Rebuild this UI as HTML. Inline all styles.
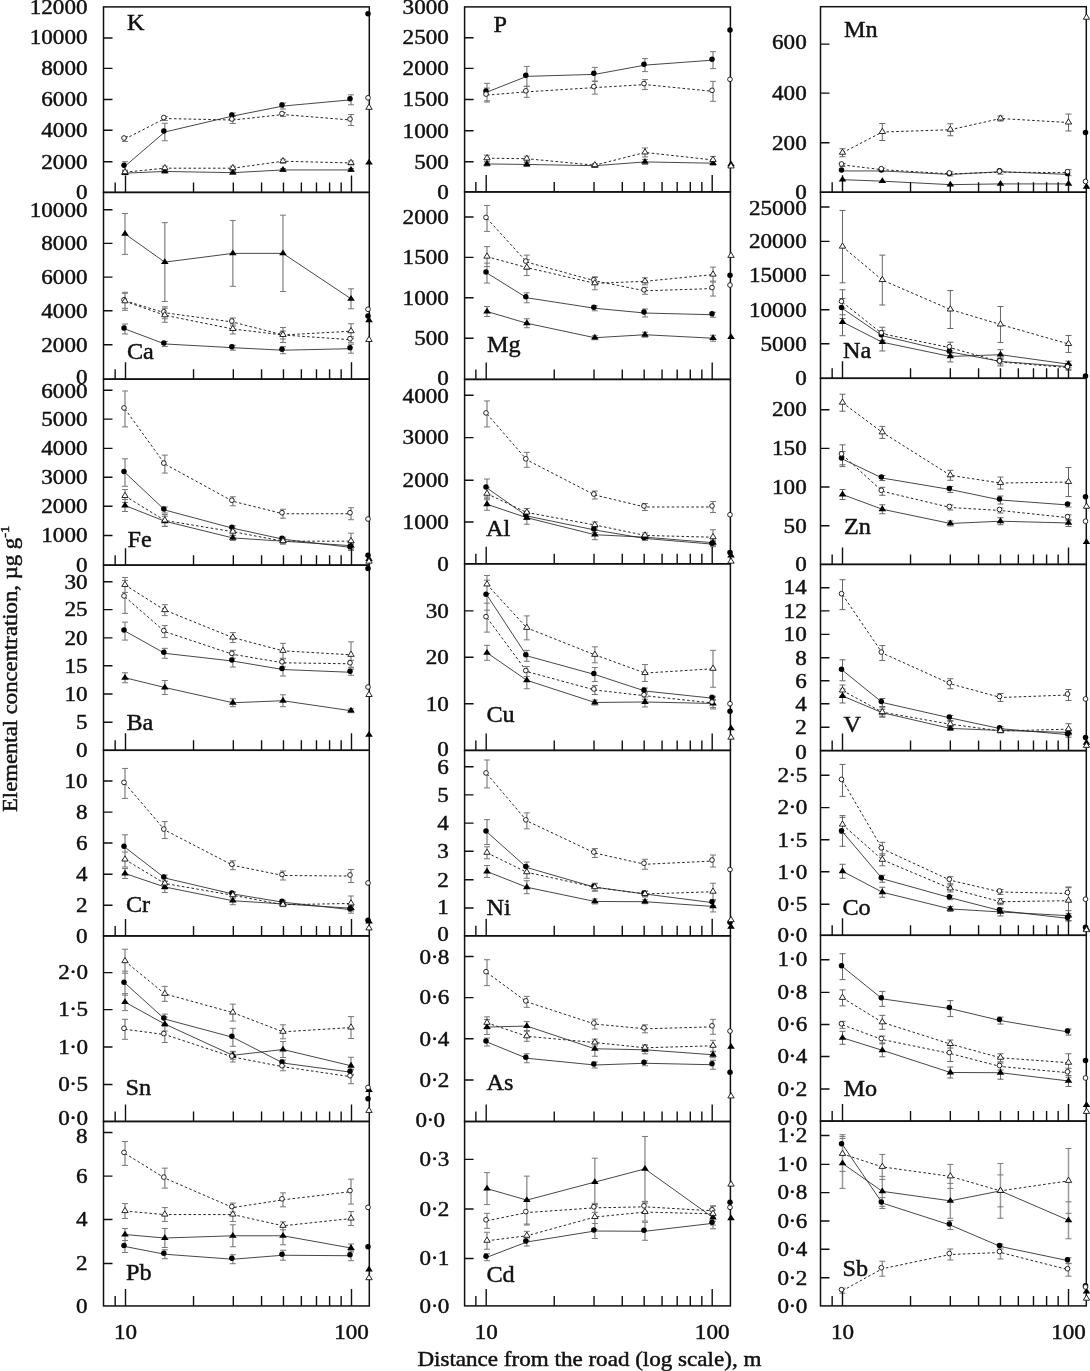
<!DOCTYPE html>
<html><head><meta charset="utf-8"><title>Elemental concentration vs distance from the road</title>
<style>html,body{margin:0;padding:0;background:#fff}svg{display:block}text{stroke:#111;stroke-width:.45px}</style></head>
<body>
<svg width="1090" height="1371" viewBox="0 0 1090 1371" font-family="'Liberation Serif', 'DejaVu Serif', serif" fill="#111">
<rect width="1090" height="1371" fill="#fff"/>
<g><!-- K -->
<path d="M125 161.7V170.69M164.8 123.28V140.74M232.83 113.04V119.03M282.97 103.06V109.05M351 94.83V104.81M125 171.69V174.68M164.8 169.94V172.93M232.83 171.19V174.18M282.97 168.44V171.44M351 168.44V171.44M125 136.5V141.49M164.8 116.54V120.53M232.83 116.54V123.52M282.97 112.54V116.54M351 114.54V125.52M125 170.19V174.18M164.8 166.2V170.19M232.83 166.2V170.19M282.97 159.21V163.2M351 160.96V164.95" fill="none" stroke="#999" stroke-width="1.5"/>
<path d="M122 161.7h6M122 170.69h6M161.8 123.28h6M161.8 140.74h6M229.83 113.04h6M229.83 119.03h6M279.97 103.06h6M279.97 109.05h6M348 94.83h6M348 104.81h6M122 171.69h6M122 174.68h6M161.8 169.94h6M161.8 172.93h6M229.83 171.19h6M229.83 174.18h6M279.97 168.44h6M279.97 171.44h6M348 168.44h6M348 171.44h6M122 136.5h6M122 141.49h6M161.8 116.54h6M161.8 120.53h6M229.83 116.54h6M229.83 123.52h6M279.97 112.54h6M279.97 116.54h6M348 114.54h6M348 125.52h6M122 170.19h6M122 174.18h6M161.8 166.2h6M161.8 170.19h6M229.83 166.2h6M229.83 170.19h6M279.97 159.21h6M279.97 163.2h6M348 160.96h6M348 164.95h6" fill="none" stroke="#777" stroke-width="1"/>
<path d="M125 166.2L164.8 132.01L232.83 116.04L282.97 106.06L351 99.82" fill="none" stroke="#262626" stroke-width="0.85"/>
<path d="M125 173.18L164.8 171.44L232.83 172.68L282.97 169.94L351 169.94" fill="none" stroke="#262626" stroke-width="0.85"/>
<path d="M125 139L164.8 118.53L232.83 120.03L282.97 114.54L351 120.03" fill="none" stroke="#262626" stroke-width="1.0" stroke-dasharray="2.6 2.3"/>
<path d="M125 172.19L164.8 168.19L232.83 168.19L282.97 161.21L351 162.95" fill="none" stroke="#262626" stroke-width="1.0" stroke-dasharray="2.6 2.3"/>
<rect x="103.5" y="6.9" width="265.8" height="185.5" fill="none" stroke="#111" stroke-width="1.5"/>
<text transform="translate(87.5,199.4) scale(1.08,1)" font-size="21.4" text-anchor="end">0</text>
<text transform="translate(87.5,168.5) scale(1.08,1)" font-size="21.4" text-anchor="end">2000</text>
<text transform="translate(87.5,137.06) scale(1.08,1)" font-size="21.4" text-anchor="end">4000</text>
<text transform="translate(87.5,106.37) scale(1.08,1)" font-size="21.4" text-anchor="end">6000</text>
<text transform="translate(87.5,75.17) scale(1.08,1)" font-size="21.4" text-anchor="end">8000</text>
<text transform="translate(87.5,43.6) scale(1.08,1)" font-size="21.4" text-anchor="end">10000</text>
<text transform="translate(87.5,14.2) scale(1.08,1)" font-size="21.4" text-anchor="end">12000</text>
<path d="M115.16 192.4v-10M125.5 192.4v-17M193.53 192.4v-10M233.33 192.4v-10M261.57 192.4v-10M283.47 192.4v-10M301.36 192.4v-10M316.49 192.4v-10M329.6 192.4v-10M341.16 192.4v-10M351.5 192.4v-17M103.5 161.7h9M103.5 130.26h9M103.5 99.57h9M103.5 68.37h9M103.5 37.93h9" fill="none" stroke="#111" stroke-width="1.4"/>
<circle cx="124" cy="165.2" r="2.75" fill="#000"/>
<circle cx="163.8" cy="131.01" r="2.75" fill="#000"/>
<circle cx="231.83" cy="115.04" r="2.75" fill="#000"/>
<circle cx="281.97" cy="105.06" r="2.75" fill="#000"/>
<circle cx="350" cy="98.82" r="2.75" fill="#000"/>
<circle cx="368" cy="13.72" r="2.75" fill="#000"/>
<polygon points="125,169.28 121.2,175.08 128.8,175.08" fill="#000"/>
<polygon points="164.8,167.54 161,173.34 168.6,173.34" fill="#000"/>
<polygon points="232.83,168.78 229.03,174.58 236.63,174.58" fill="#000"/>
<polygon points="282.97,166.04 279.17,171.84 286.77,171.84" fill="#000"/>
<polygon points="351,166.04 347.2,171.84 354.8,171.84" fill="#000"/>
<polygon points="369,158.8 365.2,164.6 372.8,164.6" fill="#000"/>
<circle cx="124" cy="138" r="2.35" fill="#fff" stroke="#111" stroke-width="0.9"/>
<circle cx="163.8" cy="117.53" r="2.35" fill="#fff" stroke="#111" stroke-width="0.9"/>
<circle cx="231.83" cy="119.03" r="2.35" fill="#fff" stroke="#111" stroke-width="0.9"/>
<circle cx="281.97" cy="113.54" r="2.35" fill="#fff" stroke="#111" stroke-width="0.9"/>
<circle cx="350" cy="119.03" r="2.35" fill="#fff" stroke="#111" stroke-width="0.9"/>
<circle cx="368" cy="97.82" r="2.35" fill="#fff" stroke="#111" stroke-width="0.9"/>
<polygon points="125,168.49 121.8,173.69 128.2,173.69" fill="#fff" stroke="#111" stroke-width="0.9" stroke-linejoin="miter"/>
<polygon points="164.8,164.49 161.6,169.69 168,169.69" fill="#fff" stroke="#111" stroke-width="0.9" stroke-linejoin="miter"/>
<polygon points="232.83,164.49 229.63,169.69 236.03,169.69" fill="#fff" stroke="#111" stroke-width="0.9" stroke-linejoin="miter"/>
<polygon points="282.97,157.51 279.77,162.71 286.17,162.71" fill="#fff" stroke="#111" stroke-width="0.9" stroke-linejoin="miter"/>
<polygon points="351,159.25 347.8,164.45 354.2,164.45" fill="#fff" stroke="#111" stroke-width="0.9" stroke-linejoin="miter"/>
<polygon points="369,104.1 365.8,109.3 372.2,109.3" fill="#fff" stroke="#111" stroke-width="0.9" stroke-linejoin="miter"/>
<text transform="translate(126.95,29.94) scale(1.04,1)" font-size="23.3" text-anchor="start">K</text>
</g>
<g><!-- P -->
<path d="M487 83.35V100.82M526.8 66.38V86.34M594.83 67.38V81.35M644.97 58.64V71.62M713 51.66V68.63M487 161.95V165.95M526.8 162.45V166.45M594.83 164.2V167.19M644.97 159.46V164.45M713 161.21V165.2M487 88.09V102.06M526.8 86.34V97.32M594.83 81.1V94.08M644.97 79.61V89.59M713 81.35V101.32M487 155.22V161.21M526.8 156.21V161.21M594.83 163.7V166.7M644.97 147.98V156.96M713 156.46V163.45" fill="none" stroke="#999" stroke-width="1.5"/>
<path d="M484 83.35h6M484 100.82h6M523.8 66.38h6M523.8 86.34h6M591.83 67.38h6M591.83 81.35h6M641.97 58.64h6M641.97 71.62h6M710 51.66h6M710 68.63h6M484 161.95h6M484 165.95h6M523.8 162.45h6M523.8 166.45h6M591.83 164.2h6M591.83 167.19h6M641.97 159.46h6M641.97 164.45h6M710 161.21h6M710 165.2h6M484 88.09h6M484 102.06h6M523.8 86.34h6M523.8 97.32h6M591.83 81.1h6M591.83 94.08h6M641.97 79.61h6M641.97 89.59h6M710 81.35h6M710 101.32h6M484 155.22h6M484 161.21h6M523.8 156.21h6M523.8 161.21h6M591.83 163.7h6M591.83 166.7h6M641.97 147.98h6M641.97 156.96h6M710 156.46h6M710 163.45h6" fill="none" stroke="#777" stroke-width="1"/>
<path d="M487 92.08L526.8 76.36L594.83 74.37L644.97 65.13L713 60.14" fill="none" stroke="#262626" stroke-width="0.85"/>
<path d="M487 163.95L526.8 164.45L594.83 165.7L644.97 161.95L713 163.2" fill="none" stroke="#262626" stroke-width="0.85"/>
<path d="M487 95.08L526.8 91.83L594.83 87.59L644.97 84.6L713 91.33" fill="none" stroke="#262626" stroke-width="1.0" stroke-dasharray="2.6 2.3"/>
<path d="M487 158.21L526.8 158.71L594.83 165.2L644.97 152.47L713 159.96" fill="none" stroke="#262626" stroke-width="1.0" stroke-dasharray="2.6 2.3"/>
<rect x="464.6" y="6.9" width="265.8" height="185" fill="none" stroke="#111" stroke-width="1.5"/>
<text transform="translate(448.8,198.9) scale(1.08,1)" font-size="21.4" text-anchor="end">0</text>
<text transform="translate(448.8,168.5) scale(1.08,1)" font-size="21.4" text-anchor="end">500</text>
<text transform="translate(448.8,137.56) scale(1.08,1)" font-size="21.4" text-anchor="end">1000</text>
<text transform="translate(448.8,106.37) scale(1.08,1)" font-size="21.4" text-anchor="end">1500</text>
<text transform="translate(448.8,75.17) scale(1.08,1)" font-size="21.4" text-anchor="end">2000</text>
<text transform="translate(448.8,44.48) scale(1.08,1)" font-size="21.4" text-anchor="end">2500</text>
<text transform="translate(448.8,14.2) scale(1.08,1)" font-size="21.4" text-anchor="end">3000</text>
<path d="M475.86 191.9v-10M486.2 191.9v-17M554.23 191.9v-10M594.03 191.9v-10M622.27 191.9v-10M644.17 191.9v-10M662.06 191.9v-10M677.19 191.9v-10M690.3 191.9v-10M701.86 191.9v-10M712.2 191.9v-17M464.6 161.7h9M464.6 130.76h9M464.6 99.57h9M464.6 68.37h9M464.6 37.68h9" fill="none" stroke="#111" stroke-width="1.4"/>
<circle cx="486" cy="91.08" r="2.75" fill="#000"/>
<circle cx="525.8" cy="75.36" r="2.75" fill="#000"/>
<circle cx="593.83" cy="73.37" r="2.75" fill="#000"/>
<circle cx="643.97" cy="64.13" r="2.75" fill="#000"/>
<circle cx="712" cy="59.14" r="2.75" fill="#000"/>
<circle cx="730" cy="29.94" r="2.75" fill="#000"/>
<polygon points="487,160.05 483.2,165.85 490.8,165.85" fill="#000"/>
<polygon points="526.8,160.55 523,166.35 530.6,166.35" fill="#000"/>
<polygon points="594.83,161.8 591.03,167.6 598.63,167.6" fill="#000"/>
<polygon points="644.97,158.05 641.17,163.85 648.77,163.85" fill="#000"/>
<polygon points="713,159.3 709.2,165.1 716.8,165.1" fill="#000"/>
<polygon points="731,160.55 727.2,166.35 734.8,166.35" fill="#000"/>
<circle cx="486" cy="94.08" r="2.35" fill="#fff" stroke="#111" stroke-width="0.9"/>
<circle cx="525.8" cy="90.83" r="2.35" fill="#fff" stroke="#111" stroke-width="0.9"/>
<circle cx="593.83" cy="86.59" r="2.35" fill="#fff" stroke="#111" stroke-width="0.9"/>
<circle cx="643.97" cy="83.6" r="2.35" fill="#fff" stroke="#111" stroke-width="0.9"/>
<circle cx="712" cy="90.33" r="2.35" fill="#fff" stroke="#111" stroke-width="0.9"/>
<circle cx="730" cy="79.35" r="2.35" fill="#fff" stroke="#111" stroke-width="0.9"/>
<polygon points="487,154.51 483.8,159.71 490.2,159.71" fill="#fff" stroke="#111" stroke-width="0.9" stroke-linejoin="miter"/>
<polygon points="526.8,155.01 523.6,160.21 530,160.21" fill="#fff" stroke="#111" stroke-width="0.9" stroke-linejoin="miter"/>
<polygon points="594.83,161.5 591.63,166.7 598.03,166.7" fill="#fff" stroke="#111" stroke-width="0.9" stroke-linejoin="miter"/>
<polygon points="644.97,148.77 641.77,153.97 648.17,153.97" fill="#fff" stroke="#111" stroke-width="0.9" stroke-linejoin="miter"/>
<polygon points="713,156.26 709.8,161.46 716.2,161.46" fill="#fff" stroke="#111" stroke-width="0.9" stroke-linejoin="miter"/>
<polygon points="731,162.75 727.8,167.95 734.2,167.95" fill="#fff" stroke="#111" stroke-width="0.9" stroke-linejoin="miter"/>
<text transform="translate(493.44,32.44) scale(1.04,1)" font-size="23.3" text-anchor="start">P</text>
</g>
<g><!-- Mn -->
<path d="M842.5 163.45V166.45M882.3 168.19V171.19M950.33 171.94V175.93M1000.47 170.19V174.18M1068.5 169.69V175.68M842.5 148.73V156.71M882.3 123.52V140.49M950.33 123.77V135.75M1000.47 116.04V121.03M1068.5 114.04V131.01" fill="none" stroke="#666" stroke-width="1.0"/>
<path d="M839.5 163.45h6M839.5 166.45h6M879.3 168.19h6M879.3 171.19h6M947.33 171.94h6M947.33 175.93h6M997.47 170.19h6M997.47 174.18h6M1065.5 169.69h6M1065.5 175.68h6M839.5 148.73h6M839.5 156.71h6M879.3 123.52h6M879.3 140.49h6M947.33 123.77h6M947.33 135.75h6M997.47 116.04h6M997.47 121.03h6M1065.5 114.04h6M1065.5 131.01h6" fill="none" stroke="#666" stroke-width="1"/>
<path d="M842.5 170.94L882.3 170.94L950.33 174.43L1000.47 171.69L1068.5 174.43" fill="none" stroke="#262626" stroke-width="0.85"/>
<path d="M842.5 179.67L882.3 181.17L950.33 184.66L1000.47 183.91L1068.5 183.91" fill="none" stroke="#262626" stroke-width="0.85"/>
<path d="M842.5 164.95L882.3 169.69L950.33 173.93L1000.47 172.19L1068.5 172.68" fill="none" stroke="#262626" stroke-width="1.0" stroke-dasharray="2.6 2.3"/>
<path d="M842.5 152.72L882.3 132.01L950.33 129.76L1000.47 118.53L1068.5 122.53" fill="none" stroke="#262626" stroke-width="1.0" stroke-dasharray="2.6 2.3"/>
<rect x="820.5" y="6.7" width="265.8" height="185.55" fill="none" stroke="#111" stroke-width="1.5"/>
<text transform="translate(806.7,198.5) scale(1.08,1)" font-size="21.4" text-anchor="end">0</text>
<text transform="translate(806.7,149.54) scale(1.08,1)" font-size="21.4" text-anchor="end">200</text>
<text transform="translate(806.7,99.88) scale(1.08,1)" font-size="21.4" text-anchor="end">400</text>
<text transform="translate(806.7,48.9) scale(1.08,1)" font-size="21.4" text-anchor="end">600</text>
<path d="M832.16 192.25v-10M842.5 192.25v-17M910.53 192.25v-10M950.33 192.25v-10M978.57 192.25v-10M1000.47 192.25v-10M1018.36 192.25v-10M1033.49 192.25v-10M1046.6 192.25v-10M1058.16 192.25v-10M1068.5 192.25v-17M820.5 142.74h9M820.5 93.08h9M820.5 44.17h9" fill="none" stroke="#111" stroke-width="1.4"/>
<circle cx="841.5" cy="169.94" r="2.75" fill="#000"/>
<circle cx="881.3" cy="169.94" r="2.75" fill="#000"/>
<circle cx="949.33" cy="173.43" r="2.75" fill="#000"/>
<circle cx="999.47" cy="170.69" r="2.75" fill="#000"/>
<circle cx="1067.5" cy="173.43" r="2.75" fill="#000"/>
<circle cx="1085.5" cy="132.51" r="2.75" fill="#000"/>
<polygon points="842.5,175.77 838.7,181.57 846.3,181.57" fill="#000"/>
<polygon points="882.3,177.27 878.5,183.07 886.1,183.07" fill="#000"/>
<polygon points="950.33,180.76 946.53,186.56 954.13,186.56" fill="#000"/>
<polygon points="1000.47,180.01 996.67,185.81 1004.27,185.81" fill="#000"/>
<polygon points="1068.5,180.01 1064.7,185.81 1072.3,185.81" fill="#000"/>
<polygon points="1086.5,183.01 1082.7,188.81 1090.3,188.81" fill="#000"/>
<circle cx="841.5" cy="163.95" r="2.35" fill="#fff" stroke="#111" stroke-width="0.9"/>
<circle cx="881.3" cy="168.69" r="2.35" fill="#fff" stroke="#111" stroke-width="0.9"/>
<circle cx="949.33" cy="172.93" r="2.35" fill="#fff" stroke="#111" stroke-width="0.9"/>
<circle cx="999.47" cy="171.19" r="2.35" fill="#fff" stroke="#111" stroke-width="0.9"/>
<circle cx="1067.5" cy="171.68" r="2.35" fill="#fff" stroke="#111" stroke-width="0.9"/>
<circle cx="1085.5" cy="181.42" r="2.35" fill="#fff" stroke="#111" stroke-width="0.9"/>
<polygon points="842.5,149.02 839.3,154.22 845.7,154.22" fill="#fff" stroke="#111" stroke-width="0.9" stroke-linejoin="miter"/>
<polygon points="882.3,128.31 879.1,133.51 885.5,133.51" fill="#fff" stroke="#111" stroke-width="0.9" stroke-linejoin="miter"/>
<polygon points="950.33,126.06 947.13,131.26 953.53,131.26" fill="#fff" stroke="#111" stroke-width="0.9" stroke-linejoin="miter"/>
<polygon points="1000.47,114.83 997.27,120.03 1003.67,120.03" fill="#fff" stroke="#111" stroke-width="0.9" stroke-linejoin="miter"/>
<polygon points="1068.5,118.83 1065.3,124.03 1071.7,124.03" fill="#fff" stroke="#111" stroke-width="0.9" stroke-linejoin="miter"/>
<polygon points="1086.5,14.02 1083.3,19.22 1089.7,19.22" fill="#fff" stroke="#111" stroke-width="0.9" stroke-linejoin="miter"/>
<text transform="translate(843.95,36.93) scale(1.04,1)" font-size="23.3" text-anchor="start">Mn</text>
</g>
<g><!-- Ca -->
<path d="M125 324V333.98M164.8 341.46V346.46M232.83 345.21V350.2M282.97 346.7V353.69M351 344.21V353.19M125 213.45V254.37M164.8 222.68V301.54M232.83 220.44V286.32M282.97 215.2V291.56M351 288.81V308.77M125 293.3V308.28M164.8 306.78V318.76M232.83 318.01V325.99M282.97 330.98V338.97M351 336.72V342.71M125 292.3V310.27M164.8 308.28V322.25M232.83 324V333.98M282.97 327.49V342.46M351 323.75V338.72" fill="none" stroke="#999" stroke-width="1.5"/>
<path d="M122 324h6M122 333.98h6M161.8 341.46h6M161.8 346.46h6M229.83 345.21h6M229.83 350.2h6M279.97 346.7h6M279.97 353.69h6M348 344.21h6M348 353.19h6M122 213.45h6M122 254.37h6M161.8 222.68h6M161.8 301.54h6M229.83 220.44h6M229.83 286.32h6M279.97 215.2h6M279.97 291.56h6M348 288.81h6M348 308.77h6M122 293.3h6M122 308.28h6M161.8 306.78h6M161.8 318.76h6M229.83 318.01h6M229.83 325.99h6M279.97 330.98h6M279.97 338.97h6M348 336.72h6M348 342.71h6M122 292.3h6M122 310.27h6M161.8 308.28h6M161.8 322.25h6M229.83 324h6M229.83 333.98h6M279.97 327.49h6M279.97 342.46h6M348 323.75h6M348 338.72h6" fill="none" stroke="#777" stroke-width="1"/>
<path d="M125 328.99L164.8 343.96L232.83 347.7L282.97 350.2L351 348.7" fill="none" stroke="#262626" stroke-width="0.85"/>
<path d="M125 233.91L164.8 262.11L232.83 253.38L282.97 253.38L351 298.79" fill="none" stroke="#262626" stroke-width="0.85"/>
<path d="M125 300.79L164.8 312.77L232.83 322L282.97 334.98L351 339.72" fill="none" stroke="#262626" stroke-width="1.0" stroke-dasharray="2.6 2.3"/>
<path d="M125 301.29L164.8 315.26L232.83 328.99L282.97 334.98L351 331.23" fill="none" stroke="#262626" stroke-width="1.0" stroke-dasharray="2.6 2.3"/>
<rect x="103.5" y="192.4" width="265.8" height="186.75" fill="none" stroke="#111" stroke-width="1.5"/>
<text transform="translate(87.5,384) scale(1.08,1)" font-size="21.4" text-anchor="end">0</text>
<text transform="translate(87.5,351.51) scale(1.08,1)" font-size="21.4" text-anchor="end">2000</text>
<text transform="translate(87.5,317.57) scale(1.08,1)" font-size="21.4" text-anchor="end">4000</text>
<text transform="translate(87.5,283.88) scale(1.08,1)" font-size="21.4" text-anchor="end">6000</text>
<text transform="translate(87.5,250.19) scale(1.08,1)" font-size="21.4" text-anchor="end">8000</text>
<text transform="translate(87.5,216.5) scale(1.08,1)" font-size="21.4" text-anchor="end">10000</text>
<path d="M115.16 379.15v-10M125.5 379.15v-17M193.53 379.15v-10M233.33 379.15v-10M261.57 379.15v-10M283.47 379.15v-10M301.36 379.15v-10M316.49 379.15v-10M329.6 379.15v-10M341.16 379.15v-10M351.5 379.15v-17M103.5 344.71h9M103.5 310.77h9M103.5 277.08h9M103.5 243.39h9M103.5 209.7h9" fill="none" stroke="#111" stroke-width="1.4"/>
<circle cx="124" cy="327.99" r="2.75" fill="#000"/>
<circle cx="163.8" cy="342.96" r="2.75" fill="#000"/>
<circle cx="231.83" cy="346.7" r="2.75" fill="#000"/>
<circle cx="281.97" cy="349.2" r="2.75" fill="#000"/>
<circle cx="350" cy="347.7" r="2.75" fill="#000"/>
<circle cx="368" cy="316.01" r="2.75" fill="#000"/>
<polygon points="125,230.01 121.2,235.81 128.8,235.81" fill="#000"/>
<polygon points="164.8,258.21 161,264.01 168.6,264.01" fill="#000"/>
<polygon points="232.83,249.48 229.03,255.28 236.63,255.28" fill="#000"/>
<polygon points="282.97,249.48 279.17,255.28 286.77,255.28" fill="#000"/>
<polygon points="351,294.89 347.2,300.69 354.8,300.69" fill="#000"/>
<polygon points="369,316.35 365.2,322.15 372.8,322.15" fill="#000"/>
<circle cx="124" cy="299.79" r="2.35" fill="#fff" stroke="#111" stroke-width="0.9"/>
<circle cx="163.8" cy="311.77" r="2.35" fill="#fff" stroke="#111" stroke-width="0.9"/>
<circle cx="231.83" cy="321" r="2.35" fill="#fff" stroke="#111" stroke-width="0.9"/>
<circle cx="281.97" cy="333.98" r="2.35" fill="#fff" stroke="#111" stroke-width="0.9"/>
<circle cx="350" cy="338.72" r="2.35" fill="#fff" stroke="#111" stroke-width="0.9"/>
<circle cx="368" cy="309.27" r="2.35" fill="#fff" stroke="#111" stroke-width="0.9"/>
<polygon points="125,297.59 121.8,302.79 128.2,302.79" fill="#fff" stroke="#111" stroke-width="0.9" stroke-linejoin="miter"/>
<polygon points="164.8,311.56 161.6,316.76 168,316.76" fill="#fff" stroke="#111" stroke-width="0.9" stroke-linejoin="miter"/>
<polygon points="232.83,325.29 229.63,330.49 236.03,330.49" fill="#fff" stroke="#111" stroke-width="0.9" stroke-linejoin="miter"/>
<polygon points="282.97,331.28 279.77,336.48 286.17,336.48" fill="#fff" stroke="#111" stroke-width="0.9" stroke-linejoin="miter"/>
<polygon points="351,327.53 347.8,332.73 354.2,332.73" fill="#fff" stroke="#111" stroke-width="0.9" stroke-linejoin="miter"/>
<polygon points="369,336.27 365.8,341.47 372.2,341.47" fill="#fff" stroke="#111" stroke-width="0.9" stroke-linejoin="miter"/>
<text transform="translate(126.95,358.93) scale(1.04,1)" font-size="23.3" text-anchor="start">Ca</text>
</g>
<g><!-- Mg -->
<path d="M487 263.11V283.07M526.8 292.8V302.79M594.83 305.78V310.77M644.97 309.02V317.01M713 312.27V317.26M487 306.53V316.51M526.8 318.76V327.74M594.83 335.72V339.72M644.97 332.23V337.22M713 335.23V341.21M487 205.46V231.42M526.8 255.12V269.1M594.83 277.33V284.32M644.97 287.31V294.3M713 281.08V296.05M487 246.64V266.6M526.8 259.61V275.59M594.83 276.83V289.81M644.97 277.83V284.82M713 267.1V282.07" fill="none" stroke="#999" stroke-width="1.5"/>
<path d="M484 263.11h6M484 283.07h6M523.8 292.8h6M523.8 302.79h6M591.83 305.78h6M591.83 310.77h6M641.97 309.02h6M641.97 317.01h6M710 312.27h6M710 317.26h6M484 306.53h6M484 316.51h6M523.8 318.76h6M523.8 327.74h6M591.83 335.72h6M591.83 339.72h6M641.97 332.23h6M641.97 337.22h6M710 335.23h6M710 341.21h6M484 205.46h6M484 231.42h6M523.8 255.12h6M523.8 269.1h6M591.83 277.33h6M591.83 284.32h6M641.97 287.31h6M641.97 294.3h6M710 281.08h6M710 296.05h6M484 246.64h6M484 266.6h6M523.8 259.61h6M523.8 275.59h6M591.83 276.83h6M591.83 289.81h6M641.97 277.83h6M641.97 284.82h6M710 267.1h6M710 282.07h6" fill="none" stroke="#777" stroke-width="1"/>
<path d="M487 273.09L526.8 297.79L594.83 308.28L644.97 313.02L713 314.76" fill="none" stroke="#262626" stroke-width="0.85"/>
<path d="M487 311.52L526.8 323.25L594.83 337.72L644.97 334.73L713 338.22" fill="none" stroke="#262626" stroke-width="0.85"/>
<path d="M487 218.44L526.8 262.11L594.83 280.83L644.97 290.81L713 288.56" fill="none" stroke="#262626" stroke-width="1.0" stroke-dasharray="2.6 2.3"/>
<path d="M487 256.62L526.8 267.6L594.83 283.32L644.97 281.32L713 274.59" fill="none" stroke="#262626" stroke-width="1.0" stroke-dasharray="2.6 2.3"/>
<rect x="464.6" y="191.9" width="265.8" height="187.5" fill="none" stroke="#111" stroke-width="1.5"/>
<text transform="translate(448.8,384.8) scale(1.08,1)" font-size="21.4" text-anchor="end">0</text>
<text transform="translate(448.8,345.02) scale(1.08,1)" font-size="21.4" text-anchor="end">500</text>
<text transform="translate(448.8,304.59) scale(1.08,1)" font-size="21.4" text-anchor="end">1000</text>
<text transform="translate(448.8,264.17) scale(1.08,1)" font-size="21.4" text-anchor="end">1500</text>
<text transform="translate(448.8,223.74) scale(1.08,1)" font-size="21.4" text-anchor="end">2000</text>
<path d="M475.86 379.4v-10M486.2 379.4v-17M554.23 379.4v-10M594.03 379.4v-10M622.27 379.4v-10M644.17 379.4v-10M662.06 379.4v-10M677.19 379.4v-10M690.3 379.4v-10M701.86 379.4v-10M712.2 379.4v-17M464.6 338.22h9M464.6 297.79h9M464.6 257.37h9M464.6 216.94h9" fill="none" stroke="#111" stroke-width="1.4"/>
<circle cx="486" cy="272.09" r="2.75" fill="#000"/>
<circle cx="525.8" cy="296.79" r="2.75" fill="#000"/>
<circle cx="593.83" cy="307.28" r="2.75" fill="#000"/>
<circle cx="643.97" cy="312.02" r="2.75" fill="#000"/>
<circle cx="712" cy="313.76" r="2.75" fill="#000"/>
<circle cx="730" cy="275.33" r="2.75" fill="#000"/>
<polygon points="487,307.62 483.2,313.42 490.8,313.42" fill="#000"/>
<polygon points="526.8,319.35 523,325.15 530.6,325.15" fill="#000"/>
<polygon points="594.83,333.82 591.03,339.62 598.63,339.62" fill="#000"/>
<polygon points="644.97,330.83 641.17,336.63 648.77,336.63" fill="#000"/>
<polygon points="713,334.32 709.2,340.12 716.8,340.12" fill="#000"/>
<polygon points="731,333.32 727.2,339.12 734.8,339.12" fill="#000"/>
<circle cx="486" cy="217.44" r="2.35" fill="#fff" stroke="#111" stroke-width="0.9"/>
<circle cx="525.8" cy="261.11" r="2.35" fill="#fff" stroke="#111" stroke-width="0.9"/>
<circle cx="593.83" cy="279.83" r="2.35" fill="#fff" stroke="#111" stroke-width="0.9"/>
<circle cx="643.97" cy="289.81" r="2.35" fill="#fff" stroke="#111" stroke-width="0.9"/>
<circle cx="712" cy="287.56" r="2.35" fill="#fff" stroke="#111" stroke-width="0.9"/>
<circle cx="730" cy="285.07" r="2.35" fill="#fff" stroke="#111" stroke-width="0.9"/>
<polygon points="487,252.92 483.8,258.12 490.2,258.12" fill="#fff" stroke="#111" stroke-width="0.9" stroke-linejoin="miter"/>
<polygon points="526.8,263.9 523.6,269.1 530,269.1" fill="#fff" stroke="#111" stroke-width="0.9" stroke-linejoin="miter"/>
<polygon points="594.83,279.62 591.63,284.82 598.03,284.82" fill="#fff" stroke="#111" stroke-width="0.9" stroke-linejoin="miter"/>
<polygon points="644.97,277.62 641.77,282.82 648.17,282.82" fill="#fff" stroke="#111" stroke-width="0.9" stroke-linejoin="miter"/>
<polygon points="713,270.89 709.8,276.09 716.2,276.09" fill="#fff" stroke="#111" stroke-width="0.9" stroke-linejoin="miter"/>
<polygon points="731,252.17 727.8,257.37 734.2,257.37" fill="#fff" stroke="#111" stroke-width="0.9" stroke-linejoin="miter"/>
<text transform="translate(486.95,352.19) scale(1.04,1)" font-size="23.3" text-anchor="start">Mg</text>
</g>
<g><!-- Na -->
<path d="M842.5 298.54V318.51M882.3 330.73V340.72M950.33 348.45V355.44M1000.47 358.93V363.92M1068.5 364.17V369.16M842.5 308.28V335.72M882.3 333.48V350.95M950.33 350.95V361.93M1000.47 349.7V359.68M1068.5 361.18V367.17M842.5 289.81V314.76M882.3 327.24V340.22M950.33 342.21V353.19M1000.47 357.93V365.92M1068.5 365.17V370.16M842.5 210.46V282.82M882.3 255.12V305.03M950.33 290.56V328.49M1000.47 306.53V342.46M1068.5 335.48V352.44" fill="none" stroke="#666" stroke-width="1.0"/>
<path d="M839.5 298.54h6M839.5 318.51h6M879.3 330.73h6M879.3 340.72h6M947.33 348.45h6M947.33 355.44h6M997.47 358.93h6M997.47 363.92h6M1065.5 364.17h6M1065.5 369.16h6M839.5 308.28h6M839.5 335.72h6M879.3 333.48h6M879.3 350.95h6M947.33 350.95h6M947.33 361.93h6M997.47 349.7h6M997.47 359.68h6M1065.5 361.18h6M1065.5 367.17h6M839.5 289.81h6M839.5 314.76h6M879.3 327.24h6M879.3 340.22h6M947.33 342.21h6M947.33 353.19h6M997.47 357.93h6M997.47 365.92h6M1065.5 365.17h6M1065.5 370.16h6M839.5 210.46h6M839.5 282.82h6M879.3 255.12h6M879.3 305.03h6M947.33 290.56h6M947.33 328.49h6M997.47 306.53h6M997.47 342.46h6M1065.5 335.48h6M1065.5 352.44h6" fill="none" stroke="#666" stroke-width="1"/>
<path d="M842.5 308.52L882.3 335.72L950.33 351.94L1000.47 361.43L1068.5 366.67" fill="none" stroke="#262626" stroke-width="0.85"/>
<path d="M842.5 322L882.3 342.21L950.33 356.44L1000.47 354.69L1068.5 364.17" fill="none" stroke="#262626" stroke-width="0.85"/>
<path d="M842.5 302.29L882.3 333.73L950.33 347.7L1000.47 361.93L1068.5 367.67" fill="none" stroke="#262626" stroke-width="1.0" stroke-dasharray="2.6 2.3"/>
<path d="M842.5 246.64L882.3 280.08L950.33 309.52L1000.47 324.5L1068.5 343.96" fill="none" stroke="#262626" stroke-width="1.0" stroke-dasharray="2.6 2.3"/>
<rect x="820.5" y="192.25" width="265.8" height="186.05" fill="none" stroke="#111" stroke-width="1.5"/>
<text transform="translate(806.7,385.3) scale(1.08,1)" font-size="21.4" text-anchor="end">0</text>
<text transform="translate(806.7,350.51) scale(1.08,1)" font-size="21.4" text-anchor="end">5000</text>
<text transform="translate(806.7,316.57) scale(1.08,1)" font-size="21.4" text-anchor="end">10000</text>
<text transform="translate(806.7,282.13) scale(1.08,1)" font-size="21.4" text-anchor="end">15000</text>
<text transform="translate(806.7,248.2) scale(1.08,1)" font-size="21.4" text-anchor="end">20000</text>
<text transform="translate(806.7,215.1) scale(1.08,1)" font-size="21.4" text-anchor="end">25000</text>
<path d="M832.16 378.3v-10M842.5 378.3v-17M910.53 378.3v-10M950.33 378.3v-10M978.57 378.3v-10M1000.47 378.3v-10M1018.36 378.3v-10M1033.49 378.3v-10M1046.6 378.3v-10M1058.16 378.3v-10M1068.5 378.3v-17M820.5 343.71h9M820.5 309.77h9M820.5 275.33h9M820.5 241.4h9M820.5 206.96h9" fill="none" stroke="#111" stroke-width="1.4"/>
<circle cx="841.5" cy="307.52" r="2.75" fill="#000"/>
<circle cx="881.3" cy="334.72" r="2.75" fill="#000"/>
<circle cx="949.33" cy="350.94" r="2.75" fill="#000"/>
<circle cx="999.47" cy="360.43" r="2.75" fill="#000"/>
<circle cx="1067.5" cy="365.67" r="2.75" fill="#000"/>
<circle cx="1085.5" cy="375.9" r="2.75" fill="#000"/>
<polygon points="842.5,318.1 838.7,323.9 846.3,323.9" fill="#000"/>
<polygon points="882.3,338.31 878.5,344.11 886.1,344.11" fill="#000"/>
<polygon points="950.33,352.54 946.53,358.34 954.13,358.34" fill="#000"/>
<polygon points="1000.47,350.79 996.67,356.59 1004.27,356.59" fill="#000"/>
<polygon points="1068.5,360.27 1064.7,366.07 1072.3,366.07" fill="#000"/>
<circle cx="841.5" cy="301.29" r="2.35" fill="#fff" stroke="#111" stroke-width="0.9"/>
<circle cx="881.3" cy="332.73" r="2.35" fill="#fff" stroke="#111" stroke-width="0.9"/>
<circle cx="949.33" cy="346.7" r="2.35" fill="#fff" stroke="#111" stroke-width="0.9"/>
<circle cx="999.47" cy="360.93" r="2.35" fill="#fff" stroke="#111" stroke-width="0.9"/>
<circle cx="1067.5" cy="366.67" r="2.35" fill="#fff" stroke="#111" stroke-width="0.9"/>
<polygon points="842.5,242.94 839.3,248.14 845.7,248.14" fill="#fff" stroke="#111" stroke-width="0.9" stroke-linejoin="miter"/>
<polygon points="882.3,276.38 879.1,281.58 885.5,281.58" fill="#fff" stroke="#111" stroke-width="0.9" stroke-linejoin="miter"/>
<polygon points="950.33,305.82 947.13,311.02 953.53,311.02" fill="#fff" stroke="#111" stroke-width="0.9" stroke-linejoin="miter"/>
<polygon points="1000.47,320.8 997.27,326 1003.67,326" fill="#fff" stroke="#111" stroke-width="0.9" stroke-linejoin="miter"/>
<polygon points="1068.5,340.26 1065.3,345.46 1071.7,345.46" fill="#fff" stroke="#111" stroke-width="0.9" stroke-linejoin="miter"/>
<text transform="translate(842.95,358.43) scale(1.04,1)" font-size="23.3" text-anchor="start">Na</text>
</g>
<g><!-- Fe -->
<path d="M125 458.84V486.29M164.8 507V512.99M232.83 525.72V530.71M282.97 537.2V541.19M351 544.43V550.42M125 499.52V511.49M164.8 516.23V526.22M232.83 535.45V540.44M282.97 539.19V543.19M351 543.19V548.18M125 390.97V426.9M164.8 455.1V473.06M232.83 496.77V505.75M282.97 509.25V518.23M351 507.75V519.73M125 489.53V502.51M164.8 514.49V526.47M232.83 528.21V535.2M282.97 538.19V544.18M351 533.2V549.17" fill="none" stroke="#999" stroke-width="1.5"/>
<path d="M122 458.84h6M122 486.29h6M161.8 507h6M161.8 512.99h6M229.83 525.72h6M229.83 530.71h6M279.97 537.2h6M279.97 541.19h6M348 544.43h6M348 550.42h6M122 499.52h6M122 511.49h6M161.8 516.23h6M161.8 526.22h6M229.83 535.45h6M229.83 540.44h6M279.97 539.19h6M279.97 543.19h6M348 543.19h6M348 548.18h6M122 390.97h6M122 426.9h6M161.8 455.1h6M161.8 473.06h6M229.83 496.77h6M229.83 505.75h6M279.97 509.25h6M279.97 518.23h6M348 507.75h6M348 519.73h6M122 489.53h6M122 502.51h6M161.8 514.49h6M161.8 526.47h6M229.83 528.21h6M229.83 535.2h6M279.97 538.19h6M279.97 544.18h6M348 533.2h6M348 549.17h6" fill="none" stroke="#777" stroke-width="1"/>
<path d="M125 472.57L164.8 510L232.83 528.21L282.97 539.19L351 547.43" fill="none" stroke="#262626" stroke-width="0.85"/>
<path d="M125 505.5L164.8 521.23L232.83 537.94L282.97 541.19L351 545.68" fill="none" stroke="#262626" stroke-width="0.85"/>
<path d="M125 408.93L164.8 464.08L232.83 501.26L282.97 513.74L351 513.74" fill="none" stroke="#262626" stroke-width="1.0" stroke-dasharray="2.6 2.3"/>
<path d="M125 496.02L164.8 520.48L232.83 531.71L282.97 541.19L351 541.19" fill="none" stroke="#262626" stroke-width="1.0" stroke-dasharray="2.6 2.3"/>
<rect x="103.5" y="379.15" width="265.8" height="186" fill="none" stroke="#111" stroke-width="1.5"/>
<text transform="translate(87.5,572.15) scale(1.08,1)" font-size="21.4" text-anchor="end">0</text>
<text transform="translate(87.5,542.25) scale(1.08,1)" font-size="21.4" text-anchor="end">1000</text>
<text transform="translate(87.5,513.05) scale(1.08,1)" font-size="21.4" text-anchor="end">2000</text>
<text transform="translate(87.5,484.1) scale(1.08,1)" font-size="21.4" text-anchor="end">3000</text>
<text transform="translate(87.5,455.16) scale(1.08,1)" font-size="21.4" text-anchor="end">4000</text>
<text transform="translate(87.5,425.96) scale(1.08,1)" font-size="21.4" text-anchor="end">5000</text>
<text transform="translate(87.5,398.3) scale(1.08,1)" font-size="21.4" text-anchor="end">6000</text>
<path d="M115.16 565.15v-10M125.5 565.15v-17M193.53 565.15v-10M233.33 565.15v-10M261.57 565.15v-10M283.47 565.15v-10M301.36 565.15v-10M316.49 565.15v-10M329.6 565.15v-10M341.16 565.15v-10M351.5 565.15v-17M103.5 535.45h9M103.5 506.25h9M103.5 477.3h9M103.5 448.36h9M103.5 419.16h9M103.5 390.21h9" fill="none" stroke="#111" stroke-width="1.4"/>
<circle cx="124" cy="471.57" r="2.75" fill="#000"/>
<circle cx="163.8" cy="509" r="2.75" fill="#000"/>
<circle cx="231.83" cy="527.21" r="2.75" fill="#000"/>
<circle cx="281.97" cy="538.19" r="2.75" fill="#000"/>
<circle cx="350" cy="546.43" r="2.75" fill="#000"/>
<circle cx="368" cy="555.16" r="2.75" fill="#000"/>
<polygon points="125,501.6 121.2,507.4 128.8,507.4" fill="#000"/>
<polygon points="164.8,517.33 161,523.13 168.6,523.13" fill="#000"/>
<polygon points="232.83,534.04 229.03,539.84 236.63,539.84" fill="#000"/>
<polygon points="282.97,537.29 279.17,543.09 286.77,543.09" fill="#000"/>
<polygon points="351,541.78 347.2,547.58 354.8,547.58" fill="#000"/>
<polygon points="369,555.26 365.2,561.06 372.8,561.06" fill="#000"/>
<circle cx="124" cy="407.93" r="2.35" fill="#fff" stroke="#111" stroke-width="0.9"/>
<circle cx="163.8" cy="463.08" r="2.35" fill="#fff" stroke="#111" stroke-width="0.9"/>
<circle cx="231.83" cy="500.26" r="2.35" fill="#fff" stroke="#111" stroke-width="0.9"/>
<circle cx="281.97" cy="512.74" r="2.35" fill="#fff" stroke="#111" stroke-width="0.9"/>
<circle cx="350" cy="512.74" r="2.35" fill="#fff" stroke="#111" stroke-width="0.9"/>
<circle cx="368" cy="518.98" r="2.35" fill="#fff" stroke="#111" stroke-width="0.9"/>
<polygon points="125,492.32 121.8,497.52 128.2,497.52" fill="#fff" stroke="#111" stroke-width="0.9" stroke-linejoin="miter"/>
<polygon points="164.8,516.78 161.6,521.98 168,521.98" fill="#fff" stroke="#111" stroke-width="0.9" stroke-linejoin="miter"/>
<polygon points="232.83,528.01 229.63,533.21 236.03,533.21" fill="#fff" stroke="#111" stroke-width="0.9" stroke-linejoin="miter"/>
<polygon points="282.97,537.49 279.77,542.69 286.17,542.69" fill="#fff" stroke="#111" stroke-width="0.9" stroke-linejoin="miter"/>
<polygon points="351,537.49 347.8,542.69 354.2,542.69" fill="#fff" stroke="#111" stroke-width="0.9" stroke-linejoin="miter"/>
<polygon points="369,557.95 365.8,563.15 372.2,563.15" fill="#fff" stroke="#111" stroke-width="0.9" stroke-linejoin="miter"/>
<text transform="translate(127.45,546.93) scale(1.04,1)" font-size="23.3" text-anchor="start">Fe</text>
</g>
<g><!-- Al -->
<path d="M487 479.05V497.02M526.8 512.49V519.48M594.83 527.46V532.46M644.97 536.45V540.44M713 541.69V546.68M487 498.27V510.25M526.8 511.24V524.22M594.83 529.71V539.69M644.97 535.2V539.19M713 540.19V545.18M487 400.95V426.9M526.8 452.35V467.32M594.83 491.03V499.02M644.97 503.51V510.5M713 501.51V512.49M487 487.79V499.77M526.8 508.5V516.48M594.83 521.97V527.96M644.97 532.95V537.94M713 529.71V544.68" fill="none" stroke="#999" stroke-width="1.5"/>
<path d="M484 479.05h6M484 497.02h6M523.8 512.49h6M523.8 519.48h6M591.83 527.46h6M591.83 532.46h6M641.97 536.45h6M641.97 540.44h6M710 541.69h6M710 546.68h6M484 498.27h6M484 510.25h6M523.8 511.24h6M523.8 524.22h6M591.83 529.71h6M591.83 539.69h6M641.97 535.2h6M641.97 539.19h6M710 540.19h6M710 545.18h6M484 400.95h6M484 426.9h6M523.8 452.35h6M523.8 467.32h6M591.83 491.03h6M591.83 499.02h6M641.97 503.51h6M641.97 510.5h6M710 501.51h6M710 512.49h6M484 487.79h6M484 499.77h6M523.8 508.5h6M523.8 516.48h6M591.83 521.97h6M591.83 527.96h6M641.97 532.95h6M641.97 537.94h6M710 529.71h6M710 544.68h6" fill="none" stroke="#777" stroke-width="1"/>
<path d="M487 488.04L526.8 515.99L594.83 529.96L644.97 538.44L713 544.18" fill="none" stroke="#262626" stroke-width="0.85"/>
<path d="M487 504.26L526.8 517.73L594.83 534.7L644.97 537.2L713 542.69" fill="none" stroke="#262626" stroke-width="0.85"/>
<path d="M487 413.92L526.8 459.84L594.83 495.02L644.97 507L713 507" fill="none" stroke="#262626" stroke-width="1.0" stroke-dasharray="2.6 2.3"/>
<path d="M487 493.78L526.8 512.49L594.83 524.97L644.97 535.45L713 537.2" fill="none" stroke="#262626" stroke-width="1.0" stroke-dasharray="2.6 2.3"/>
<rect x="464.6" y="379.4" width="265.8" height="184.4" fill="none" stroke="#111" stroke-width="1.5"/>
<text transform="translate(448.8,570.8) scale(1.08,1)" font-size="21.4" text-anchor="end">0</text>
<text transform="translate(448.8,528.77) scale(1.08,1)" font-size="21.4" text-anchor="end">1000</text>
<text transform="translate(448.8,487.1) scale(1.08,1)" font-size="21.4" text-anchor="end">2000</text>
<text transform="translate(448.8,444.43) scale(1.08,1)" font-size="21.4" text-anchor="end">3000</text>
<text transform="translate(448.8,402.8) scale(1.08,1)" font-size="21.4" text-anchor="end">4000</text>
<path d="M475.86 563.8v-10M486.2 563.8v-17M554.23 563.8v-10M594.03 563.8v-10M622.27 563.8v-10M644.17 563.8v-10M662.06 563.8v-10M677.19 563.8v-10M690.3 563.8v-10M701.86 563.8v-10M712.2 563.8v-17M464.6 521.97h9M464.6 480.3h9M464.6 437.63h9M464.6 395.21h9" fill="none" stroke="#111" stroke-width="1.4"/>
<circle cx="486" cy="487.04" r="2.75" fill="#000"/>
<circle cx="525.8" cy="514.99" r="2.75" fill="#000"/>
<circle cx="593.83" cy="528.96" r="2.75" fill="#000"/>
<circle cx="643.97" cy="537.44" r="2.75" fill="#000"/>
<circle cx="712" cy="543.18" r="2.75" fill="#000"/>
<circle cx="730" cy="552.42" r="2.75" fill="#000"/>
<polygon points="487,500.36 483.2,506.16 490.8,506.16" fill="#000"/>
<polygon points="526.8,513.83 523,519.63 530.6,519.63" fill="#000"/>
<polygon points="594.83,530.8 591.03,536.6 598.63,536.6" fill="#000"/>
<polygon points="644.97,533.3 641.17,539.1 648.77,539.1" fill="#000"/>
<polygon points="713,538.79 709.2,544.59 716.8,544.59" fill="#000"/>
<polygon points="731,551.76 727.2,557.56 734.8,557.56" fill="#000"/>
<circle cx="486" cy="412.92" r="2.35" fill="#fff" stroke="#111" stroke-width="0.9"/>
<circle cx="525.8" cy="458.84" r="2.35" fill="#fff" stroke="#111" stroke-width="0.9"/>
<circle cx="593.83" cy="494.02" r="2.35" fill="#fff" stroke="#111" stroke-width="0.9"/>
<circle cx="643.97" cy="506" r="2.35" fill="#fff" stroke="#111" stroke-width="0.9"/>
<circle cx="712" cy="506" r="2.35" fill="#fff" stroke="#111" stroke-width="0.9"/>
<circle cx="730" cy="514.74" r="2.35" fill="#fff" stroke="#111" stroke-width="0.9"/>
<polygon points="487,490.08 483.8,495.28 490.2,495.28" fill="#fff" stroke="#111" stroke-width="0.9" stroke-linejoin="miter"/>
<polygon points="526.8,508.79 523.6,513.99 530,513.99" fill="#fff" stroke="#111" stroke-width="0.9" stroke-linejoin="miter"/>
<polygon points="594.83,521.27 591.63,526.47 598.03,526.47" fill="#fff" stroke="#111" stroke-width="0.9" stroke-linejoin="miter"/>
<polygon points="644.97,531.75 641.77,536.95 648.17,536.95" fill="#fff" stroke="#111" stroke-width="0.9" stroke-linejoin="miter"/>
<polygon points="713,533.5 709.8,538.7 716.2,538.7" fill="#fff" stroke="#111" stroke-width="0.9" stroke-linejoin="miter"/>
<polygon points="731,557.95 727.8,563.15 734.2,563.15" fill="#fff" stroke="#111" stroke-width="0.9" stroke-linejoin="miter"/>
<text transform="translate(485.95,535.7) scale(1.04,1)" font-size="23.3" text-anchor="start">Al</text>
</g>
<g><!-- Zn -->
<path d="M842.5 451.6V466.58M882.3 475.56V480.55M950.33 486.54V492.53M1000.47 496.02V504.01M1068.5 503.01V507M842.5 489.53V499.52M882.3 504.76V513.74M950.33 520.98V525.97M1000.47 517.73V524.72M1068.5 519.48V526.47M842.5 444.87V464.83M882.3 487.29V495.27M950.33 505.01V510M1000.47 508V512.99M1068.5 514.74V520.73M842.5 394.21V411.18M882.3 426.4V438.38M950.33 470.32V480.3M1000.47 477.06V489.03M1068.5 467.57V496.52" fill="none" stroke="#666" stroke-width="1.0"/>
<path d="M839.5 451.6h6M839.5 466.58h6M879.3 475.56h6M879.3 480.55h6M947.33 486.54h6M947.33 492.53h6M997.47 496.02h6M997.47 504.01h6M1065.5 503.01h6M1065.5 507h6M839.5 489.53h6M839.5 499.52h6M879.3 504.76h6M879.3 513.74h6M947.33 520.98h6M947.33 525.97h6M997.47 517.73h6M997.47 524.72h6M1065.5 519.48h6M1065.5 526.47h6M839.5 444.87h6M839.5 464.83h6M879.3 487.29h6M879.3 495.27h6M947.33 505.01h6M947.33 510h6M997.47 508h6M997.47 512.99h6M1065.5 514.74h6M1065.5 520.73h6M839.5 394.21h6M839.5 411.18h6M879.3 426.4h6M879.3 438.38h6M947.33 470.32h6M947.33 480.3h6M997.47 477.06h6M997.47 489.03h6M1065.5 467.57h6M1065.5 496.52h6" fill="none" stroke="#666" stroke-width="1"/>
<path d="M842.5 459.09L882.3 478.06L950.33 489.53L1000.47 500.01L1068.5 505.01" fill="none" stroke="#262626" stroke-width="0.85"/>
<path d="M842.5 494.52L882.3 509.25L950.33 523.47L1000.47 521.23L1068.5 522.97" fill="none" stroke="#262626" stroke-width="0.85"/>
<path d="M842.5 454.85L882.3 491.28L950.33 507.5L1000.47 510.5L1068.5 517.73" fill="none" stroke="#262626" stroke-width="1.0" stroke-dasharray="2.6 2.3"/>
<path d="M842.5 402.69L882.3 432.39L950.33 475.31L1000.47 483.05L1068.5 482.05" fill="none" stroke="#262626" stroke-width="1.0" stroke-dasharray="2.6 2.3"/>
<rect x="820.5" y="378.3" width="265.8" height="186.1" fill="none" stroke="#111" stroke-width="1.5"/>
<text transform="translate(806.7,571.4) scale(1.08,1)" font-size="21.4" text-anchor="end">0</text>
<text transform="translate(806.7,532.52) scale(1.08,1)" font-size="21.4" text-anchor="end">50</text>
<text transform="translate(806.7,493.84) scale(1.08,1)" font-size="21.4" text-anchor="end">100</text>
<text transform="translate(806.7,455.16) scale(1.08,1)" font-size="21.4" text-anchor="end">150</text>
<text transform="translate(806.7,416.48) scale(1.08,1)" font-size="21.4" text-anchor="end">200</text>
<path d="M832.16 564.4v-10M842.5 564.4v-17M910.53 564.4v-10M950.33 564.4v-10M978.57 564.4v-10M1000.47 564.4v-10M1018.36 564.4v-10M1033.49 564.4v-10M1046.6 564.4v-10M1058.16 564.4v-10M1068.5 564.4v-17M820.5 525.72h9M820.5 487.04h9M820.5 448.36h9M820.5 409.68h9" fill="none" stroke="#111" stroke-width="1.4"/>
<circle cx="841.5" cy="458.09" r="2.75" fill="#000"/>
<circle cx="881.3" cy="477.06" r="2.75" fill="#000"/>
<circle cx="949.33" cy="488.53" r="2.75" fill="#000"/>
<circle cx="999.47" cy="499.01" r="2.75" fill="#000"/>
<circle cx="1067.5" cy="504.01" r="2.75" fill="#000"/>
<circle cx="1085.5" cy="496.77" r="2.75" fill="#000"/>
<polygon points="842.5,490.62 838.7,496.42 846.3,496.42" fill="#000"/>
<polygon points="882.3,505.35 878.5,511.15 886.1,511.15" fill="#000"/>
<polygon points="950.33,519.57 946.53,525.37 954.13,525.37" fill="#000"/>
<polygon points="1000.47,517.33 996.67,523.13 1004.27,523.13" fill="#000"/>
<polygon points="1068.5,519.07 1064.7,524.87 1072.3,524.87" fill="#000"/>
<polygon points="1086.5,538.29 1082.7,544.09 1090.3,544.09" fill="#000"/>
<circle cx="841.5" cy="453.85" r="2.35" fill="#fff" stroke="#111" stroke-width="0.9"/>
<circle cx="881.3" cy="490.28" r="2.35" fill="#fff" stroke="#111" stroke-width="0.9"/>
<circle cx="949.33" cy="506.5" r="2.35" fill="#fff" stroke="#111" stroke-width="0.9"/>
<circle cx="999.47" cy="509.5" r="2.35" fill="#fff" stroke="#111" stroke-width="0.9"/>
<circle cx="1067.5" cy="516.73" r="2.35" fill="#fff" stroke="#111" stroke-width="0.9"/>
<circle cx="1085.5" cy="521.22" r="2.35" fill="#fff" stroke="#111" stroke-width="0.9"/>
<polygon points="842.5,398.99 839.3,404.19 845.7,404.19" fill="#fff" stroke="#111" stroke-width="0.9" stroke-linejoin="miter"/>
<polygon points="882.3,428.69 879.1,433.89 885.5,433.89" fill="#fff" stroke="#111" stroke-width="0.9" stroke-linejoin="miter"/>
<polygon points="950.33,471.61 947.13,476.81 953.53,476.81" fill="#fff" stroke="#111" stroke-width="0.9" stroke-linejoin="miter"/>
<polygon points="1000.47,479.35 997.27,484.55 1003.67,484.55" fill="#fff" stroke="#111" stroke-width="0.9" stroke-linejoin="miter"/>
<polygon points="1068.5,478.35 1065.3,483.55 1071.7,483.55" fill="#fff" stroke="#111" stroke-width="0.9" stroke-linejoin="miter"/>
<polygon points="1086.5,503.05 1083.3,508.25 1089.7,508.25" fill="#fff" stroke="#111" stroke-width="0.9" stroke-linejoin="miter"/>
<text transform="translate(843.95,534.45) scale(1.04,1)" font-size="23.3" text-anchor="start">Zn</text>
</g>
<g><!-- Ba -->
<path d="M125 622.13V640.1M164.8 648.33V658.31M232.83 655.07V667.05M282.97 663.06V676.03M351 669.29V675.28M125 672.79V682.77M164.8 680.52V694.5M232.83 698.74V706.72M282.97 694.75V706.72M351 708.72V712.71M125 580.46V613.4M164.8 625.62V637.6M232.83 650.33V658.31M282.97 658.81V666.8M351 660.31V667.3M125 577.46V592.43M164.8 604.66V615.64M232.83 632.61V642.59M282.97 643.34V658.31M351 641.84V667.8" fill="none" stroke="#999" stroke-width="1.5"/>
<path d="M122 622.13h6M122 640.1h6M161.8 648.33h6M161.8 658.31h6M229.83 655.07h6M229.83 667.05h6M279.97 663.06h6M279.97 676.03h6M348 669.29h6M348 675.28h6M122 672.79h6M122 682.77h6M161.8 680.52h6M161.8 694.5h6M229.83 698.74h6M229.83 706.72h6M279.97 694.75h6M279.97 706.72h6M348 708.72h6M348 712.71h6M122 580.46h6M122 613.4h6M161.8 625.62h6M161.8 637.6h6M229.83 650.33h6M229.83 658.31h6M279.97 658.81h6M279.97 666.8h6M348 660.31h6M348 667.3h6M122 577.46h6M122 592.43h6M161.8 604.66h6M161.8 615.64h6M229.83 632.61h6M229.83 642.59h6M279.97 643.34h6M279.97 658.31h6M348 641.84h6M348 667.8h6" fill="none" stroke="#777" stroke-width="1"/>
<path d="M125 631.11L164.8 653.32L232.83 661.06L282.97 669.54L351 672.29" fill="none" stroke="#262626" stroke-width="0.85"/>
<path d="M125 677.78L164.8 687.51L232.83 702.73L282.97 700.74L351 710.72" fill="none" stroke="#262626" stroke-width="0.85"/>
<path d="M125 596.93L164.8 631.61L232.83 654.32L282.97 662.81L351 663.8" fill="none" stroke="#262626" stroke-width="1.0" stroke-dasharray="2.6 2.3"/>
<path d="M125 584.95L164.8 610.15L232.83 637.6L282.97 650.83L351 654.82" fill="none" stroke="#262626" stroke-width="1.0" stroke-dasharray="2.6 2.3"/>
<rect x="103.5" y="565.15" width="265.8" height="185.15" fill="none" stroke="#111" stroke-width="1.5"/>
<text transform="translate(87.5,757.3) scale(1.08,1)" font-size="21.4" text-anchor="end">0</text>
<text transform="translate(87.5,728.99) scale(1.08,1)" font-size="21.4" text-anchor="end">5</text>
<text transform="translate(87.5,700.8) scale(1.08,1)" font-size="21.4" text-anchor="end">10</text>
<text transform="translate(87.5,672.6) scale(1.08,1)" font-size="21.4" text-anchor="end">15</text>
<text transform="translate(87.5,644.65) scale(1.08,1)" font-size="21.4" text-anchor="end">20</text>
<text transform="translate(87.5,616.45) scale(1.08,1)" font-size="21.4" text-anchor="end">25</text>
<text transform="translate(87.5,588.5) scale(1.08,1)" font-size="21.4" text-anchor="end">30</text>
<path d="M115.16 750.3v-10M125.5 750.3v-17M193.53 750.3v-10M233.33 750.3v-10M261.57 750.3v-10M283.47 750.3v-10M301.36 750.3v-10M316.49 750.3v-10M329.6 750.3v-10M341.16 750.3v-10M351.5 750.3v-17M103.5 722.19h9M103.5 694h9M103.5 665.8h9M103.5 637.85h9M103.5 609.65h9M103.5 581.7h9" fill="none" stroke="#111" stroke-width="1.4"/>
<circle cx="124" cy="630.11" r="2.75" fill="#000"/>
<circle cx="163.8" cy="652.32" r="2.75" fill="#000"/>
<circle cx="231.83" cy="660.06" r="2.75" fill="#000"/>
<circle cx="281.97" cy="668.54" r="2.75" fill="#000"/>
<circle cx="350" cy="671.29" r="2.75" fill="#000"/>
<circle cx="368" cy="568.48" r="2.75" fill="#000"/>
<polygon points="125,673.88 121.2,679.68 128.8,679.68" fill="#000"/>
<polygon points="164.8,683.61 161,689.41 168.6,689.41" fill="#000"/>
<polygon points="232.83,698.83 229.03,704.63 236.63,704.63" fill="#000"/>
<polygon points="282.97,696.84 279.17,702.64 286.77,702.64" fill="#000"/>
<polygon points="351,706.82 347.2,712.62 354.8,712.62" fill="#000"/>
<polygon points="369,731.02 365.2,736.82 372.8,736.82" fill="#000"/>
<circle cx="124" cy="595.93" r="2.35" fill="#fff" stroke="#111" stroke-width="0.9"/>
<circle cx="163.8" cy="630.61" r="2.35" fill="#fff" stroke="#111" stroke-width="0.9"/>
<circle cx="231.83" cy="653.32" r="2.35" fill="#fff" stroke="#111" stroke-width="0.9"/>
<circle cx="281.97" cy="661.81" r="2.35" fill="#fff" stroke="#111" stroke-width="0.9"/>
<circle cx="350" cy="662.8" r="2.35" fill="#fff" stroke="#111" stroke-width="0.9"/>
<circle cx="368" cy="687.01" r="2.35" fill="#fff" stroke="#111" stroke-width="0.9"/>
<polygon points="125,581.25 121.8,586.45 128.2,586.45" fill="#fff" stroke="#111" stroke-width="0.9" stroke-linejoin="miter"/>
<polygon points="164.8,606.45 161.6,611.65 168,611.65" fill="#fff" stroke="#111" stroke-width="0.9" stroke-linejoin="miter"/>
<polygon points="232.83,633.9 229.63,639.1 236.03,639.1" fill="#fff" stroke="#111" stroke-width="0.9" stroke-linejoin="miter"/>
<polygon points="282.97,647.13 279.77,652.33 286.17,652.33" fill="#fff" stroke="#111" stroke-width="0.9" stroke-linejoin="miter"/>
<polygon points="351,651.12 347.8,656.32 354.2,656.32" fill="#fff" stroke="#111" stroke-width="0.9" stroke-linejoin="miter"/>
<polygon points="369,691.3 365.8,696.5 372.2,696.5" fill="#fff" stroke="#111" stroke-width="0.9" stroke-linejoin="miter"/>
<text transform="translate(126.45,729.93) scale(1.04,1)" font-size="23.3" text-anchor="start">Ba</text>
</g>
<g><!-- Cu -->
<path d="M487 580.21V610.15M526.8 650.33V661.31M594.83 667.55V681.52M644.97 688.01V694M713 696.24V700.24M487 645.34V660.31M526.8 671.79V688.76M594.83 699.99V704.98M644.97 696.99V706.97M713 699.49V707.47M487 603.17V632.11M526.8 666.55V676.53M594.83 685.51V694.5M644.97 692.25V699.24M713 696.99V708.97M487 575.47V593.43M526.8 615.89V639.85M594.83 646.83V662.81M644.97 664.55V681.52M713 650.33V687.26" fill="none" stroke="#999" stroke-width="1.5"/>
<path d="M484 580.21h6M484 610.15h6M523.8 650.33h6M523.8 661.31h6M591.83 667.55h6M591.83 681.52h6M641.97 688.01h6M641.97 694h6M710 696.24h6M710 700.24h6M484 645.34h6M484 660.31h6M523.8 671.79h6M523.8 688.76h6M591.83 699.99h6M591.83 704.98h6M641.97 696.99h6M641.97 706.97h6M710 699.49h6M710 707.47h6M484 603.17h6M484 632.11h6M523.8 666.55h6M523.8 676.53h6M591.83 685.51h6M591.83 694.5h6M641.97 692.25h6M641.97 699.24h6M710 696.99h6M710 708.97h6M484 575.47h6M484 593.43h6M523.8 615.89h6M523.8 639.85h6M591.83 646.83h6M591.83 662.81h6M641.97 664.55h6M641.97 681.52h6M710 650.33h6M710 687.26h6" fill="none" stroke="#777" stroke-width="1"/>
<path d="M487 595.18L526.8 655.82L594.83 674.53L644.97 691L713 698.24" fill="none" stroke="#262626" stroke-width="0.85"/>
<path d="M487 652.82L526.8 680.27L594.83 702.48L644.97 701.98L713 703.48" fill="none" stroke="#262626" stroke-width="0.85"/>
<path d="M487 617.64L526.8 671.54L594.83 690.01L644.97 695.74L713 702.98" fill="none" stroke="#262626" stroke-width="1.0" stroke-dasharray="2.6 2.3"/>
<path d="M487 584.45L526.8 627.87L594.83 654.82L644.97 673.04L713 668.79" fill="none" stroke="#262626" stroke-width="1.0" stroke-dasharray="2.6 2.3"/>
<rect x="464.6" y="563.8" width="265.8" height="186.6" fill="none" stroke="#111" stroke-width="1.5"/>
<text transform="translate(448.8,756.2) scale(1.08,1)" font-size="21.4" text-anchor="end">0</text>
<text transform="translate(448.8,710.53) scale(1.08,1)" font-size="21.4" text-anchor="end">10</text>
<text transform="translate(448.8,664.11) scale(1.08,1)" font-size="21.4" text-anchor="end">20</text>
<text transform="translate(448.8,617.7) scale(1.08,1)" font-size="21.4" text-anchor="end">30</text>
<path d="M475.86 750.4v-10M486.2 750.4v-17M554.23 750.4v-10M594.03 750.4v-10M622.27 750.4v-10M644.17 750.4v-10M662.06 750.4v-10M677.19 750.4v-10M690.3 750.4v-10M701.86 750.4v-10M712.2 750.4v-17M464.6 703.73h9M464.6 657.31h9M464.6 610.9h9" fill="none" stroke="#111" stroke-width="1.4"/>
<circle cx="486" cy="594.18" r="2.75" fill="#000"/>
<circle cx="525.8" cy="654.82" r="2.75" fill="#000"/>
<circle cx="593.83" cy="673.53" r="2.75" fill="#000"/>
<circle cx="643.97" cy="690" r="2.75" fill="#000"/>
<circle cx="712" cy="697.24" r="2.75" fill="#000"/>
<circle cx="730" cy="711.21" r="2.75" fill="#000"/>
<polygon points="487,648.92 483.2,654.72 490.8,654.72" fill="#000"/>
<polygon points="526.8,676.37 523,682.17 530.6,682.17" fill="#000"/>
<polygon points="594.83,698.58 591.03,704.38 598.63,704.38" fill="#000"/>
<polygon points="644.97,698.08 641.17,703.88 648.77,703.88" fill="#000"/>
<polygon points="713,699.58 709.2,705.38 716.8,705.38" fill="#000"/>
<polygon points="731,724.53 727.2,730.33 734.8,730.33" fill="#000"/>
<circle cx="486" cy="616.64" r="2.35" fill="#fff" stroke="#111" stroke-width="0.9"/>
<circle cx="525.8" cy="670.54" r="2.35" fill="#fff" stroke="#111" stroke-width="0.9"/>
<circle cx="593.83" cy="689.01" r="2.35" fill="#fff" stroke="#111" stroke-width="0.9"/>
<circle cx="643.97" cy="694.74" r="2.35" fill="#fff" stroke="#111" stroke-width="0.9"/>
<circle cx="712" cy="701.98" r="2.35" fill="#fff" stroke="#111" stroke-width="0.9"/>
<circle cx="730" cy="703.73" r="2.35" fill="#fff" stroke="#111" stroke-width="0.9"/>
<polygon points="487,580.75 483.8,585.95 490.2,585.95" fill="#fff" stroke="#111" stroke-width="0.9" stroke-linejoin="miter"/>
<polygon points="526.8,624.17 523.6,629.37 530,629.37" fill="#fff" stroke="#111" stroke-width="0.9" stroke-linejoin="miter"/>
<polygon points="594.83,651.12 591.63,656.32 598.03,656.32" fill="#fff" stroke="#111" stroke-width="0.9" stroke-linejoin="miter"/>
<polygon points="644.97,669.34 641.77,674.54 648.17,674.54" fill="#fff" stroke="#111" stroke-width="0.9" stroke-linejoin="miter"/>
<polygon points="713,665.09 709.8,670.29 716.2,670.29" fill="#fff" stroke="#111" stroke-width="0.9" stroke-linejoin="miter"/>
<polygon points="731,733.97 727.8,739.17 734.2,739.17" fill="#fff" stroke="#111" stroke-width="0.9" stroke-linejoin="miter"/>
<text transform="translate(486.45,721.94) scale(1.04,1)" font-size="23.3" text-anchor="start">Cu</text>
</g>
<g><!-- V -->
<path d="M842.5 659.81V680.77M882.3 698.49V706.48M950.33 715.46V720.45M1000.47 726.69V730.68M1068.5 732.18V737.17M842.5 689.01V702.98M882.3 709.22V716.21M950.33 726.44V730.43M1000.47 728.43V732.43M1068.5 729.93V734.92M842.5 579.71V609.65M882.3 645.59V660.56M950.33 678.78V688.76M1000.47 693.5V701.48M1068.5 689.51V700.49M842.5 685.01V695.99M882.3 707.22V717.21M950.33 721.2V727.19M1000.47 728.93V732.93M1068.5 723.69V734.67" fill="none" stroke="#666" stroke-width="1.0"/>
<path d="M839.5 659.81h6M839.5 680.77h6M879.3 698.49h6M879.3 706.48h6M947.33 715.46h6M947.33 720.45h6M997.47 726.69h6M997.47 730.68h6M1065.5 732.18h6M1065.5 737.17h6M839.5 689.01h6M839.5 702.98h6M879.3 709.22h6M879.3 716.21h6M947.33 726.44h6M947.33 730.43h6M997.47 728.43h6M997.47 732.43h6M1065.5 729.93h6M1065.5 734.92h6M839.5 579.71h6M839.5 609.65h6M879.3 645.59h6M879.3 660.56h6M947.33 678.78h6M947.33 688.76h6M997.47 693.5h6M997.47 701.48h6M1065.5 689.51h6M1065.5 700.49h6M839.5 685.01h6M839.5 695.99h6M879.3 707.22h6M879.3 717.21h6M947.33 721.2h6M947.33 727.19h6M997.47 728.93h6M997.47 732.93h6M1065.5 723.69h6M1065.5 734.67h6" fill="none" stroke="#666" stroke-width="1"/>
<path d="M842.5 670.29L882.3 702.48L950.33 717.95L1000.47 728.68L1068.5 734.67" fill="none" stroke="#262626" stroke-width="0.85"/>
<path d="M842.5 695.99L882.3 712.71L950.33 728.43L1000.47 730.43L1068.5 732.43" fill="none" stroke="#262626" stroke-width="0.85"/>
<path d="M842.5 594.68L882.3 653.07L950.33 683.77L1000.47 697.49L1068.5 695" fill="none" stroke="#262626" stroke-width="1.0" stroke-dasharray="2.6 2.3"/>
<path d="M842.5 690.5L882.3 712.21L950.33 724.19L1000.47 730.93L1068.5 729.18" fill="none" stroke="#262626" stroke-width="1.0" stroke-dasharray="2.6 2.3"/>
<rect x="820.5" y="564.4" width="265.8" height="186.2" fill="none" stroke="#111" stroke-width="1.5"/>
<text transform="translate(806.7,758.6) scale(1.08,1)" font-size="21.4" text-anchor="end">0</text>
<text transform="translate(806.7,733.99) scale(1.08,1)" font-size="21.4" text-anchor="end">2</text>
<text transform="translate(806.7,710.53) scale(1.08,1)" font-size="21.4" text-anchor="end">4</text>
<text transform="translate(806.7,687.57) scale(1.08,1)" font-size="21.4" text-anchor="end">6</text>
<text transform="translate(806.7,664.61) scale(1.08,1)" font-size="21.4" text-anchor="end">8</text>
<text transform="translate(806.7,641.16) scale(1.08,1)" font-size="21.4" text-anchor="end">10</text>
<text transform="translate(806.7,617.7) scale(1.08,1)" font-size="21.4" text-anchor="end">12</text>
<text transform="translate(806.7,594.49) scale(1.08,1)" font-size="21.4" text-anchor="end">14</text>
<path d="M832.16 750.6v-10M842.5 750.6v-17M910.53 750.6v-10M950.33 750.6v-10M978.57 750.6v-10M1000.47 750.6v-10M1018.36 750.6v-10M1033.49 750.6v-10M1046.6 750.6v-10M1058.16 750.6v-10M1068.5 750.6v-17M820.5 727.19h9M820.5 703.73h9M820.5 680.77h9M820.5 657.81h9M820.5 634.36h9M820.5 610.9h9M820.5 587.69h9" fill="none" stroke="#111" stroke-width="1.4"/>
<circle cx="841.5" cy="669.29" r="2.75" fill="#000"/>
<circle cx="881.3" cy="701.48" r="2.75" fill="#000"/>
<circle cx="949.33" cy="716.95" r="2.75" fill="#000"/>
<circle cx="999.47" cy="727.68" r="2.75" fill="#000"/>
<circle cx="1067.5" cy="733.67" r="2.75" fill="#000"/>
<circle cx="1085.5" cy="737.42" r="2.75" fill="#000"/>
<polygon points="842.5,692.09 838.7,697.89 846.3,697.89" fill="#000"/>
<polygon points="882.3,708.81 878.5,714.61 886.1,714.61" fill="#000"/>
<polygon points="950.33,724.53 946.53,730.33 954.13,730.33" fill="#000"/>
<polygon points="1000.47,726.53 996.67,732.33 1004.27,732.33" fill="#000"/>
<polygon points="1068.5,728.53 1064.7,734.33 1072.3,734.33" fill="#000"/>
<polygon points="1086.5,739.01 1082.7,744.81 1090.3,744.81" fill="#000"/>
<circle cx="841.5" cy="593.68" r="2.35" fill="#fff" stroke="#111" stroke-width="0.9"/>
<circle cx="881.3" cy="652.07" r="2.35" fill="#fff" stroke="#111" stroke-width="0.9"/>
<circle cx="949.33" cy="682.77" r="2.35" fill="#fff" stroke="#111" stroke-width="0.9"/>
<circle cx="999.47" cy="696.49" r="2.35" fill="#fff" stroke="#111" stroke-width="0.9"/>
<circle cx="1067.5" cy="694" r="2.35" fill="#fff" stroke="#111" stroke-width="0.9"/>
<circle cx="1085.5" cy="698.99" r="2.35" fill="#fff" stroke="#111" stroke-width="0.9"/>
<polygon points="842.5,686.8 839.3,692 845.7,692" fill="#fff" stroke="#111" stroke-width="0.9" stroke-linejoin="miter"/>
<polygon points="882.3,708.51 879.1,713.71 885.5,713.71" fill="#fff" stroke="#111" stroke-width="0.9" stroke-linejoin="miter"/>
<polygon points="950.33,720.49 947.13,725.69 953.53,725.69" fill="#fff" stroke="#111" stroke-width="0.9" stroke-linejoin="miter"/>
<polygon points="1000.47,727.23 997.27,732.43 1003.67,732.43" fill="#fff" stroke="#111" stroke-width="0.9" stroke-linejoin="miter"/>
<polygon points="1068.5,725.48 1065.3,730.68 1071.7,730.68" fill="#fff" stroke="#111" stroke-width="0.9" stroke-linejoin="miter"/>
<polygon points="1086.5,742.2 1083.3,747.4 1089.7,747.4" fill="#fff" stroke="#111" stroke-width="0.9" stroke-linejoin="miter"/>
<text transform="translate(843.45,731.93) scale(1.04,1)" font-size="23.3" text-anchor="start">V</text>
</g>
<g><!-- Cr -->
<path d="M125 834.83V859.79M164.8 875.01V881M232.83 891.98V895.97M282.97 900.21V904.2M351 906.2V913.19M125 868.52V878.5M164.8 881.5V892.48M232.83 896.72V904.7M282.97 901.96V905.95M351 905.7V910.69M125 768.45V798.4M164.8 821.61V838.57M232.83 860.78V869.77M282.97 871.01V880M351 869.52V882.49M125 852.05V867.02M164.8 878V888.98M232.83 892.23V898.21M282.97 902.71V906.7M351 895.97V910.94" fill="none" stroke="#999" stroke-width="1.5"/>
<path d="M122 834.83h6M122 859.79h6M161.8 875.01h6M161.8 881h6M229.83 891.98h6M229.83 895.97h6M279.97 900.21h6M279.97 904.2h6M348 906.2h6M348 913.19h6M122 868.52h6M122 878.5h6M161.8 881.5h6M161.8 892.48h6M229.83 896.72h6M229.83 904.7h6M279.97 901.96h6M279.97 905.95h6M348 905.7h6M348 910.69h6M122 768.45h6M122 798.4h6M161.8 821.61h6M161.8 838.57h6M229.83 860.78h6M229.83 869.77h6M279.97 871.01h6M279.97 880h6M348 869.52h6M348 882.49h6M122 852.05h6M122 867.02h6M161.8 878h6M161.8 888.98h6M229.83 892.23h6M229.83 898.21h6M279.97 902.71h6M279.97 906.7h6M348 895.97h6M348 910.94h6" fill="none" stroke="#777" stroke-width="1"/>
<path d="M125 847.31L164.8 878L232.83 893.97L282.97 902.21L351 909.69" fill="none" stroke="#262626" stroke-width="0.85"/>
<path d="M125 873.51L164.8 886.99L232.83 900.71L282.97 903.95L351 908.2" fill="none" stroke="#262626" stroke-width="0.85"/>
<path d="M125 783.43L164.8 830.09L232.83 865.28L282.97 875.51L351 876.01" fill="none" stroke="#262626" stroke-width="1.0" stroke-dasharray="2.6 2.3"/>
<path d="M125 859.54L164.8 883.49L232.83 895.22L282.97 904.7L351 903.46" fill="none" stroke="#262626" stroke-width="1.0" stroke-dasharray="2.6 2.3"/>
<rect x="103.5" y="750.3" width="265.8" height="185.6" fill="none" stroke="#111" stroke-width="1.5"/>
<text transform="translate(87.5,942.9) scale(1.08,1)" font-size="21.4" text-anchor="end">0</text>
<text transform="translate(87.5,912) scale(1.08,1)" font-size="21.4" text-anchor="end">2</text>
<text transform="translate(87.5,881.06) scale(1.08,1)" font-size="21.4" text-anchor="end">4</text>
<text transform="translate(87.5,849.86) scale(1.08,1)" font-size="21.4" text-anchor="end">6</text>
<text transform="translate(87.5,818.92) scale(1.08,1)" font-size="21.4" text-anchor="end">8</text>
<text transform="translate(87.5,787.73) scale(1.08,1)" font-size="21.4" text-anchor="end">10</text>
<path d="M115.16 935.9v-10M125.5 935.9v-17M193.53 935.9v-10M233.33 935.9v-10M261.57 935.9v-10M283.47 935.9v-10M301.36 935.9v-10M316.49 935.9v-10M329.6 935.9v-10M341.16 935.9v-10M351.5 935.9v-17M103.5 905.2h9M103.5 874.26h9M103.5 843.06h9M103.5 812.12h9M103.5 780.93h9" fill="none" stroke="#111" stroke-width="1.4"/>
<circle cx="124" cy="846.31" r="2.75" fill="#000"/>
<circle cx="163.8" cy="877" r="2.75" fill="#000"/>
<circle cx="231.83" cy="892.97" r="2.75" fill="#000"/>
<circle cx="281.97" cy="901.21" r="2.75" fill="#000"/>
<circle cx="350" cy="908.69" r="2.75" fill="#000"/>
<circle cx="368" cy="920.17" r="2.75" fill="#000"/>
<polygon points="125,869.61 121.2,875.41 128.8,875.41" fill="#000"/>
<polygon points="164.8,883.09 161,888.89 168.6,888.89" fill="#000"/>
<polygon points="232.83,896.81 229.03,902.61 236.63,902.61" fill="#000"/>
<polygon points="282.97,900.05 279.17,905.85 286.77,905.85" fill="#000"/>
<polygon points="351,904.3 347.2,910.1 354.8,910.1" fill="#000"/>
<polygon points="369,917.77 365.2,923.57 372.8,923.57" fill="#000"/>
<circle cx="124" cy="782.43" r="2.35" fill="#fff" stroke="#111" stroke-width="0.9"/>
<circle cx="163.8" cy="829.09" r="2.35" fill="#fff" stroke="#111" stroke-width="0.9"/>
<circle cx="231.83" cy="864.28" r="2.35" fill="#fff" stroke="#111" stroke-width="0.9"/>
<circle cx="281.97" cy="874.51" r="2.35" fill="#fff" stroke="#111" stroke-width="0.9"/>
<circle cx="350" cy="875.01" r="2.35" fill="#fff" stroke="#111" stroke-width="0.9"/>
<circle cx="368" cy="882.99" r="2.35" fill="#fff" stroke="#111" stroke-width="0.9"/>
<polygon points="125,855.84 121.8,861.04 128.2,861.04" fill="#fff" stroke="#111" stroke-width="0.9" stroke-linejoin="miter"/>
<polygon points="164.8,879.79 161.6,884.99 168,884.99" fill="#fff" stroke="#111" stroke-width="0.9" stroke-linejoin="miter"/>
<polygon points="232.83,891.52 229.63,896.72 236.03,896.72" fill="#fff" stroke="#111" stroke-width="0.9" stroke-linejoin="miter"/>
<polygon points="282.97,901 279.77,906.2 286.17,906.2" fill="#fff" stroke="#111" stroke-width="0.9" stroke-linejoin="miter"/>
<polygon points="351,899.76 347.8,904.96 354.2,904.96" fill="#fff" stroke="#111" stroke-width="0.9" stroke-linejoin="miter"/>
<polygon points="369,924.71 365.8,929.91 372.2,929.91" fill="#fff" stroke="#111" stroke-width="0.9" stroke-linejoin="miter"/>
<text transform="translate(125.95,911.69) scale(1.04,1)" font-size="23.3" text-anchor="start">Cr</text>
</g>
<g><!-- Ni -->
<path d="M487 819.61V844.56M526.8 862.03V873.01M594.83 883.74V890.73M644.97 891.48V896.47M713 899.71V905.7M487 865.52V877.5M526.8 880.75V893.72M594.83 898.96V903.95M644.97 899.71V903.7M713 900.96V911.94M487 759.97V787.92M526.8 812.87V828.84M594.83 848.56V857.54M644.97 859.29V869.27M713 855.04V867.02M487 846.81V858.79M526.8 866.27V878.25M594.83 883.24V891.23M644.97 890.98V896.97M713 883.24V900.21" fill="none" stroke="#999" stroke-width="1.5"/>
<path d="M484 819.61h6M484 844.56h6M523.8 862.03h6M523.8 873.01h6M591.83 883.74h6M591.83 890.73h6M641.97 891.48h6M641.97 896.47h6M710 899.71h6M710 905.7h6M484 865.52h6M484 877.5h6M523.8 880.75h6M523.8 893.72h6M591.83 898.96h6M591.83 903.95h6M641.97 899.71h6M641.97 903.7h6M710 900.96h6M710 911.94h6M484 759.97h6M484 787.92h6M523.8 812.87h6M523.8 828.84h6M591.83 848.56h6M591.83 857.54h6M641.97 859.29h6M641.97 869.27h6M710 855.04h6M710 867.02h6M484 846.81h6M484 858.79h6M523.8 866.27h6M523.8 878.25h6M591.83 883.24h6M591.83 891.23h6M641.97 890.98h6M641.97 896.97h6M710 883.24h6M710 900.21h6" fill="none" stroke="#777" stroke-width="1"/>
<path d="M487 832.09L526.8 867.52L594.83 887.23L644.97 893.97L713 902.71" fill="none" stroke="#262626" stroke-width="0.85"/>
<path d="M487 871.51L526.8 887.23L594.83 901.46L644.97 901.71L713 906.45" fill="none" stroke="#262626" stroke-width="0.85"/>
<path d="M487 773.94L526.8 820.86L594.83 853.05L644.97 864.28L713 861.03" fill="none" stroke="#262626" stroke-width="1.0" stroke-dasharray="2.6 2.3"/>
<path d="M487 852.8L526.8 872.26L594.83 887.23L644.97 893.97L713 891.73" fill="none" stroke="#262626" stroke-width="1.0" stroke-dasharray="2.6 2.3"/>
<rect x="464.6" y="750.4" width="265.8" height="185.4" fill="none" stroke="#111" stroke-width="1.5"/>
<text transform="translate(448.8,941.3) scale(1.08,1)" font-size="21.4" text-anchor="end">0</text>
<text transform="translate(448.8,913.8) scale(1.08,1)" font-size="21.4" text-anchor="end">1</text>
<text transform="translate(448.8,886.55) scale(1.08,1)" font-size="21.4" text-anchor="end">2</text>
<text transform="translate(448.8,858.1) scale(1.08,1)" font-size="21.4" text-anchor="end">3</text>
<text transform="translate(448.8,829.9) scale(1.08,1)" font-size="21.4" text-anchor="end">4</text>
<text transform="translate(448.8,801.7) scale(1.08,1)" font-size="21.4" text-anchor="end">5</text>
<text transform="translate(448.8,774.45) scale(1.08,1)" font-size="21.4" text-anchor="end">6</text>
<path d="M475.86 935.8v-10M486.2 935.8v-17M554.23 935.8v-10M594.03 935.8v-10M622.27 935.8v-10M644.17 935.8v-10M662.06 935.8v-10M677.19 935.8v-10M690.3 935.8v-10M701.86 935.8v-10M712.2 935.8v-17M464.6 907.94h9M464.6 879.75h9M464.6 851.3h9M464.6 823.1h9M464.6 794.9h9M464.6 766.7h9" fill="none" stroke="#111" stroke-width="1.4"/>
<circle cx="486" cy="831.09" r="2.75" fill="#000"/>
<circle cx="525.8" cy="866.52" r="2.75" fill="#000"/>
<circle cx="593.83" cy="886.23" r="2.75" fill="#000"/>
<circle cx="643.97" cy="892.97" r="2.75" fill="#000"/>
<circle cx="712" cy="901.71" r="2.75" fill="#000"/>
<circle cx="730" cy="922.17" r="2.75" fill="#000"/>
<polygon points="487,867.61 483.2,873.41 490.8,873.41" fill="#000"/>
<polygon points="526.8,883.33 523,889.13 530.6,889.13" fill="#000"/>
<polygon points="594.83,897.56 591.03,903.36 598.63,903.36" fill="#000"/>
<polygon points="644.97,897.81 641.17,903.61 648.77,903.61" fill="#000"/>
<polygon points="713,902.55 709.2,908.35 716.8,908.35" fill="#000"/>
<polygon points="731,923.01 727.2,928.81 734.8,928.81" fill="#000"/>
<circle cx="486" cy="772.94" r="2.35" fill="#fff" stroke="#111" stroke-width="0.9"/>
<circle cx="525.8" cy="819.86" r="2.35" fill="#fff" stroke="#111" stroke-width="0.9"/>
<circle cx="593.83" cy="852.05" r="2.35" fill="#fff" stroke="#111" stroke-width="0.9"/>
<circle cx="643.97" cy="863.28" r="2.35" fill="#fff" stroke="#111" stroke-width="0.9"/>
<circle cx="712" cy="860.03" r="2.35" fill="#fff" stroke="#111" stroke-width="0.9"/>
<circle cx="730" cy="869.52" r="2.35" fill="#fff" stroke="#111" stroke-width="0.9"/>
<polygon points="487,849.1 483.8,854.3 490.2,854.3" fill="#fff" stroke="#111" stroke-width="0.9" stroke-linejoin="miter"/>
<polygon points="526.8,868.56 523.6,873.76 530,873.76" fill="#fff" stroke="#111" stroke-width="0.9" stroke-linejoin="miter"/>
<polygon points="594.83,883.53 591.63,888.73 598.03,888.73" fill="#fff" stroke="#111" stroke-width="0.9" stroke-linejoin="miter"/>
<polygon points="644.97,890.27 641.77,895.47 648.17,895.47" fill="#fff" stroke="#111" stroke-width="0.9" stroke-linejoin="miter"/>
<polygon points="713,888.03 709.8,893.23 716.2,893.23" fill="#fff" stroke="#111" stroke-width="0.9" stroke-linejoin="miter"/>
<polygon points="731,916.47 727.8,921.67 734.2,921.67" fill="#fff" stroke="#111" stroke-width="0.9" stroke-linejoin="miter"/>
<text transform="translate(486.45,914.68) scale(1.04,1)" font-size="23.3" text-anchor="start">Ni</text>
</g>
<g><!-- Co -->
<path d="M842.5 817.36V846.31M882.3 875.26V882.24M950.33 895.72V899.71M1000.47 908.7V912.69M1068.5 915.93V920.92M842.5 864.28V878.25M882.3 887.23V897.22M950.33 906.45V911.44M1000.47 907.95V915.93M1068.5 910.69V920.67M842.5 764.46V796.4M882.3 842.32V855.29M950.33 876.75V883.74M1000.47 889.48V894.47M1068.5 886.99V899.96M842.5 815.62V833.58M882.3 853.8V865.77M950.33 884.99V891.98M1000.47 898.71V904.7M1068.5 887.73V913.69" fill="none" stroke="#666" stroke-width="1.0"/>
<path d="M839.5 817.36h6M839.5 846.31h6M879.3 875.26h6M879.3 882.24h6M947.33 895.72h6M947.33 899.71h6M997.47 908.7h6M997.47 912.69h6M1065.5 915.93h6M1065.5 920.92h6M839.5 864.28h6M839.5 878.25h6M879.3 887.23h6M879.3 897.22h6M947.33 906.45h6M947.33 911.44h6M997.47 907.95h6M997.47 915.93h6M1065.5 910.69h6M1065.5 920.67h6M839.5 764.46h6M839.5 796.4h6M879.3 842.32h6M879.3 855.29h6M947.33 876.75h6M947.33 883.74h6M997.47 889.48h6M997.47 894.47h6M1065.5 886.99h6M1065.5 899.96h6M839.5 815.62h6M839.5 833.58h6M879.3 853.8h6M879.3 865.77h6M947.33 884.99h6M947.33 891.98h6M997.47 898.71h6M997.47 904.7h6M1065.5 887.73h6M1065.5 913.69h6" fill="none" stroke="#666" stroke-width="1"/>
<path d="M842.5 831.84L882.3 878.75L950.33 897.72L1000.47 910.69L1068.5 918.43" fill="none" stroke="#262626" stroke-width="0.85"/>
<path d="M842.5 871.26L882.3 892.23L950.33 908.94L1000.47 911.94L1068.5 915.68" fill="none" stroke="#262626" stroke-width="0.85"/>
<path d="M842.5 780.43L882.3 848.81L950.33 880.25L1000.47 891.98L1068.5 893.47" fill="none" stroke="#262626" stroke-width="1.0" stroke-dasharray="2.6 2.3"/>
<path d="M842.5 824.6L882.3 859.79L950.33 888.48L1000.47 901.71L1068.5 900.71" fill="none" stroke="#262626" stroke-width="1.0" stroke-dasharray="2.6 2.3"/>
<rect x="820.5" y="750.6" width="265.8" height="184.7" fill="none" stroke="#111" stroke-width="1.5"/>
<text transform="translate(806.7,942.3) scale(1.08,1)" font-size="21.4" text-anchor="end" letter-spacing="-0.5">0·0</text>
<text transform="translate(806.7,911) scale(1.08,1)" font-size="21.4" text-anchor="end" letter-spacing="-0.5">0·5</text>
<text transform="translate(806.7,878.56) scale(1.08,1)" font-size="21.4" text-anchor="end" letter-spacing="-0.5">1·0</text>
<text transform="translate(806.7,846.62) scale(1.08,1)" font-size="21.4" text-anchor="end" letter-spacing="-0.5">1·5</text>
<text transform="translate(806.7,814.43) scale(1.08,1)" font-size="21.4" text-anchor="end" letter-spacing="-0.5">2·0</text>
<text transform="translate(806.7,781.99) scale(1.08,1)" font-size="21.4" text-anchor="end" letter-spacing="-0.5">2·5</text>
<path d="M832.16 935.3v-10M842.5 935.3v-17M910.53 935.3v-10M950.33 935.3v-10M978.57 935.3v-10M1000.47 935.3v-10M1018.36 935.3v-10M1033.49 935.3v-10M1046.6 935.3v-10M1058.16 935.3v-10M1068.5 935.3v-17M820.5 904.2h9M820.5 871.76h9M820.5 839.82h9M820.5 807.63h9M820.5 775.19h9" fill="none" stroke="#111" stroke-width="1.4"/>
<circle cx="841.5" cy="830.84" r="2.75" fill="#000"/>
<circle cx="881.3" cy="877.75" r="2.75" fill="#000"/>
<circle cx="949.33" cy="896.72" r="2.75" fill="#000"/>
<circle cx="999.47" cy="909.69" r="2.75" fill="#000"/>
<circle cx="1067.5" cy="917.43" r="2.75" fill="#000"/>
<circle cx="1085.5" cy="927.16" r="2.75" fill="#000"/>
<polygon points="842.5,867.36 838.7,873.16 846.3,873.16" fill="#000"/>
<polygon points="882.3,888.33 878.5,894.13 886.1,894.13" fill="#000"/>
<polygon points="950.33,905.04 946.53,910.84 954.13,910.84" fill="#000"/>
<polygon points="1000.47,908.04 996.67,913.84 1004.27,913.84" fill="#000"/>
<polygon points="1068.5,911.78 1064.7,917.58 1072.3,917.58" fill="#000"/>
<polygon points="1086.5,925.01 1082.7,930.81 1090.3,930.81" fill="#000"/>
<circle cx="841.5" cy="779.43" r="2.35" fill="#fff" stroke="#111" stroke-width="0.9"/>
<circle cx="881.3" cy="847.81" r="2.35" fill="#fff" stroke="#111" stroke-width="0.9"/>
<circle cx="949.33" cy="879.25" r="2.35" fill="#fff" stroke="#111" stroke-width="0.9"/>
<circle cx="999.47" cy="890.98" r="2.35" fill="#fff" stroke="#111" stroke-width="0.9"/>
<circle cx="1067.5" cy="892.47" r="2.35" fill="#fff" stroke="#111" stroke-width="0.9"/>
<circle cx="1085.5" cy="899.21" r="2.35" fill="#fff" stroke="#111" stroke-width="0.9"/>
<polygon points="842.5,820.9 839.3,826.1 845.7,826.1" fill="#fff" stroke="#111" stroke-width="0.9" stroke-linejoin="miter"/>
<polygon points="882.3,856.09 879.1,861.29 885.5,861.29" fill="#fff" stroke="#111" stroke-width="0.9" stroke-linejoin="miter"/>
<polygon points="950.33,884.78 947.13,889.98 953.53,889.98" fill="#fff" stroke="#111" stroke-width="0.9" stroke-linejoin="miter"/>
<polygon points="1000.47,898.01 997.27,903.21 1003.67,903.21" fill="#fff" stroke="#111" stroke-width="0.9" stroke-linejoin="miter"/>
<polygon points="1068.5,897.01 1065.3,902.21 1071.7,902.21" fill="#fff" stroke="#111" stroke-width="0.9" stroke-linejoin="miter"/>
<polygon points="1086.5,926.46 1083.3,931.66 1089.7,931.66" fill="#fff" stroke="#111" stroke-width="0.9" stroke-linejoin="miter"/>
<text transform="translate(842.45,914.68) scale(1.04,1)" font-size="23.3" text-anchor="start">Co</text>
</g>
<g><!-- Sn -->
<path d="M125 971.17V995.13M164.8 1014.09V1024.07M232.83 1028.32V1046.28M282.97 1060.01V1066M351 1069.24V1075.23M125 993.63V1010.6M164.8 1017.09V1031.06M232.83 1051.27V1059.26M282.97 1041.54V1057.51M351 1057.26V1074.23M125 1019.33V1039.3M164.8 1026.57V1042.54M232.83 1052.02V1062M282.97 1062.75V1070.74M351 1069.74V1083.71M125 949.21V973.17M164.8 986.39V1001.37M232.83 1004.11V1021.08M282.97 1024.82V1038.8M351 1016.59V1038.55" fill="none" stroke="#999" stroke-width="1.5"/>
<path d="M122 971.17h6M122 995.13h6M161.8 1014.09h6M161.8 1024.07h6M229.83 1028.32h6M229.83 1046.28h6M279.97 1060.01h6M279.97 1066h6M348 1069.24h6M348 1075.23h6M122 993.63h6M122 1010.6h6M161.8 1017.09h6M161.8 1031.06h6M229.83 1051.27h6M229.83 1059.26h6M279.97 1041.54h6M279.97 1057.51h6M348 1057.26h6M348 1074.23h6M122 1019.33h6M122 1039.3h6M161.8 1026.57h6M161.8 1042.54h6M229.83 1052.02h6M229.83 1062h6M279.97 1062.75h6M279.97 1070.74h6M348 1069.74h6M348 1083.71h6M122 949.21h6M122 973.17h6M161.8 986.39h6M161.8 1001.37h6M229.83 1004.11h6M229.83 1021.08h6M279.97 1024.82h6M279.97 1038.8h6M348 1016.59h6M348 1038.55h6" fill="none" stroke="#777" stroke-width="1"/>
<path d="M125 983.15L164.8 1019.08L232.83 1037.3L282.97 1063L351 1072.23" fill="none" stroke="#262626" stroke-width="0.85"/>
<path d="M125 1002.11L164.8 1024.07L232.83 1055.27L282.97 1049.53L351 1065.75" fill="none" stroke="#262626" stroke-width="0.85"/>
<path d="M125 1029.31L164.8 1034.55L232.83 1057.01L282.97 1066.74L351 1076.73" fill="none" stroke="#262626" stroke-width="1.0" stroke-dasharray="2.6 2.3"/>
<path d="M125 961.19L164.8 993.88L232.83 1012.59L282.97 1031.81L351 1027.57" fill="none" stroke="#262626" stroke-width="1.0" stroke-dasharray="2.6 2.3"/>
<rect x="103.5" y="935.9" width="265.8" height="185.55" fill="none" stroke="#111" stroke-width="1.5"/>
<text transform="translate(87.5,1124.5) scale(1.08,1)" font-size="21.4" text-anchor="end" letter-spacing="-0.5">0·0</text>
<text transform="translate(87.5,1091.26) scale(1.08,1)" font-size="21.4" text-anchor="end" letter-spacing="-0.5">0·5</text>
<text transform="translate(87.5,1053.83) scale(1.08,1)" font-size="21.4" text-anchor="end" letter-spacing="-0.5">1·0</text>
<text transform="translate(87.5,1016.4) scale(1.08,1)" font-size="21.4" text-anchor="end" letter-spacing="-0.5">1·5</text>
<text transform="translate(87.5,979.47) scale(1.08,1)" font-size="21.4" text-anchor="end" letter-spacing="-0.5">2·0</text>
<path d="M115.16 1121.45v-10M125.5 1121.45v-17M193.53 1121.45v-10M233.33 1121.45v-10M261.57 1121.45v-10M283.47 1121.45v-10M301.36 1121.45v-10M316.49 1121.45v-10M329.6 1121.45v-10M341.16 1121.45v-10M351.5 1121.45v-17M103.5 1084.46h9M103.5 1047.03h9M103.5 1009.6h9M103.5 972.67h9" fill="none" stroke="#111" stroke-width="1.4"/>
<circle cx="124" cy="982.15" r="2.75" fill="#000"/>
<circle cx="163.8" cy="1018.08" r="2.75" fill="#000"/>
<circle cx="231.83" cy="1036.3" r="2.75" fill="#000"/>
<circle cx="281.97" cy="1062" r="2.75" fill="#000"/>
<circle cx="350" cy="1071.23" r="2.75" fill="#000"/>
<circle cx="368" cy="1098.68" r="2.75" fill="#000"/>
<polygon points="125,998.21 121.2,1004.01 128.8,1004.01" fill="#000"/>
<polygon points="164.8,1020.17 161,1025.97 168.6,1025.97" fill="#000"/>
<polygon points="232.83,1051.37 229.03,1057.17 236.63,1057.17" fill="#000"/>
<polygon points="282.97,1045.63 279.17,1051.43 286.77,1051.43" fill="#000"/>
<polygon points="351,1061.85 347.2,1067.65 354.8,1067.65" fill="#000"/>
<polygon points="369,1086.3 365.2,1092.1 372.8,1092.1" fill="#000"/>
<circle cx="124" cy="1028.31" r="2.35" fill="#fff" stroke="#111" stroke-width="0.9"/>
<circle cx="163.8" cy="1033.55" r="2.35" fill="#fff" stroke="#111" stroke-width="0.9"/>
<circle cx="231.83" cy="1056.01" r="2.35" fill="#fff" stroke="#111" stroke-width="0.9"/>
<circle cx="281.97" cy="1065.74" r="2.35" fill="#fff" stroke="#111" stroke-width="0.9"/>
<circle cx="350" cy="1075.73" r="2.35" fill="#fff" stroke="#111" stroke-width="0.9"/>
<circle cx="368" cy="1087.46" r="2.35" fill="#fff" stroke="#111" stroke-width="0.9"/>
<polygon points="125,957.49 121.8,962.69 128.2,962.69" fill="#fff" stroke="#111" stroke-width="0.9" stroke-linejoin="miter"/>
<polygon points="164.8,990.18 161.6,995.38 168,995.38" fill="#fff" stroke="#111" stroke-width="0.9" stroke-linejoin="miter"/>
<polygon points="232.83,1008.89 229.63,1014.09 236.03,1014.09" fill="#fff" stroke="#111" stroke-width="0.9" stroke-linejoin="miter"/>
<polygon points="282.97,1028.11 279.77,1033.31 286.17,1033.31" fill="#fff" stroke="#111" stroke-width="0.9" stroke-linejoin="miter"/>
<polygon points="351,1023.87 347.8,1029.07 354.2,1029.07" fill="#fff" stroke="#111" stroke-width="0.9" stroke-linejoin="miter"/>
<polygon points="369,1107.21 365.8,1112.41 372.2,1112.41" fill="#fff" stroke="#111" stroke-width="0.9" stroke-linejoin="miter"/>
<text transform="translate(125.45,1095.44) scale(1.04,1)" font-size="23.3" text-anchor="start">Sn</text>
</g>
<g><!-- As -->
<path d="M487 1038.05V1046.03M526.8 1053.77V1062.75M594.83 1062V1067.99M644.97 1060.76V1065.75M713 1060.26V1069.24M487 1019.58V1034.55M526.8 1021.58V1030.56M594.83 1041.29V1056.26M644.97 1045.78V1053.77M713 1051.77V1057.76M487 959.69V985.64M526.8 996.37V1007.35M594.83 1019.08V1029.06M644.97 1024.82V1032.81M713 1019.33V1034.3M487 1016.84V1028.81M526.8 1031.31V1041.29M594.83 1039.05V1046.03M644.97 1044.79V1050.77M713 1040.29V1051.27" fill="none" stroke="#999" stroke-width="1.5"/>
<path d="M484 1038.05h6M484 1046.03h6M523.8 1053.77h6M523.8 1062.75h6M591.83 1062h6M591.83 1067.99h6M641.97 1060.76h6M641.97 1065.75h6M710 1060.26h6M710 1069.24h6M484 1019.58h6M484 1034.55h6M523.8 1021.58h6M523.8 1030.56h6M591.83 1041.29h6M591.83 1056.26h6M641.97 1045.78h6M641.97 1053.77h6M710 1051.77h6M710 1057.76h6M484 959.69h6M484 985.64h6M523.8 996.37h6M523.8 1007.35h6M591.83 1019.08h6M591.83 1029.06h6M641.97 1024.82h6M641.97 1032.81h6M710 1019.33h6M710 1034.3h6M484 1016.84h6M484 1028.81h6M523.8 1031.31h6M523.8 1041.29h6M591.83 1039.05h6M591.83 1046.03h6M641.97 1044.79h6M641.97 1050.77h6M710 1040.29h6M710 1051.27h6" fill="none" stroke="#777" stroke-width="1"/>
<path d="M487 1042.04L526.8 1058.26L594.83 1065L644.97 1063.25L713 1064.75" fill="none" stroke="#262626" stroke-width="0.85"/>
<path d="M487 1027.07L526.8 1026.07L594.83 1048.78L644.97 1049.78L713 1054.77" fill="none" stroke="#262626" stroke-width="0.85"/>
<path d="M487 972.67L526.8 1001.86L594.83 1024.07L644.97 1028.81L713 1026.82" fill="none" stroke="#262626" stroke-width="1.0" stroke-dasharray="2.6 2.3"/>
<path d="M487 1022.83L526.8 1036.3L594.83 1042.54L644.97 1047.78L713 1045.78" fill="none" stroke="#262626" stroke-width="1.0" stroke-dasharray="2.6 2.3"/>
<rect x="464.6" y="935.8" width="265.8" height="185.7" fill="none" stroke="#111" stroke-width="1.5"/>
<text transform="translate(444.6,1127.2) scale(1.08,1)" font-size="21.4" text-anchor="end" letter-spacing="-0.5">0·0</text>
<text transform="translate(448.8,1086.77) scale(1.08,1)" font-size="21.4" text-anchor="end" letter-spacing="-0.5">0·2</text>
<text transform="translate(448.8,1045.59) scale(1.08,1)" font-size="21.4" text-anchor="end" letter-spacing="-0.5">0·4</text>
<text transform="translate(448.8,1004.42) scale(1.08,1)" font-size="21.4" text-anchor="end" letter-spacing="-0.5">0·6</text>
<text transform="translate(448.8,964) scale(1.08,1)" font-size="21.4" text-anchor="end" letter-spacing="-0.5">0·8</text>
<path d="M475.86 1121.5v-10M486.2 1121.5v-17M554.23 1121.5v-10M594.03 1121.5v-10M622.27 1121.5v-10M644.17 1121.5v-10M662.06 1121.5v-10M677.19 1121.5v-10M690.3 1121.5v-10M701.86 1121.5v-10M712.2 1121.5v-17M464.6 1079.97h9M464.6 1038.79h9M464.6 997.62h9M464.6 956.45h9" fill="none" stroke="#111" stroke-width="1.4"/>
<circle cx="486" cy="1041.04" r="2.75" fill="#000"/>
<circle cx="525.8" cy="1057.26" r="2.75" fill="#000"/>
<circle cx="593.83" cy="1064" r="2.75" fill="#000"/>
<circle cx="643.97" cy="1062.25" r="2.75" fill="#000"/>
<circle cx="712" cy="1063.75" r="2.75" fill="#000"/>
<circle cx="730" cy="1072.23" r="2.75" fill="#000"/>
<polygon points="487,1023.17 483.2,1028.97 490.8,1028.97" fill="#000"/>
<polygon points="526.8,1022.17 523,1027.97 530.6,1027.97" fill="#000"/>
<polygon points="594.83,1044.88 591.03,1050.68 598.63,1050.68" fill="#000"/>
<polygon points="644.97,1045.88 641.17,1051.68 648.77,1051.68" fill="#000"/>
<polygon points="713,1050.87 709.2,1056.67 716.8,1056.67" fill="#000"/>
<polygon points="731,1042.88 727.2,1048.68 734.8,1048.68" fill="#000"/>
<circle cx="486" cy="971.67" r="2.35" fill="#fff" stroke="#111" stroke-width="0.9"/>
<circle cx="525.8" cy="1000.86" r="2.35" fill="#fff" stroke="#111" stroke-width="0.9"/>
<circle cx="593.83" cy="1023.07" r="2.35" fill="#fff" stroke="#111" stroke-width="0.9"/>
<circle cx="643.97" cy="1027.81" r="2.35" fill="#fff" stroke="#111" stroke-width="0.9"/>
<circle cx="712" cy="1025.82" r="2.35" fill="#fff" stroke="#111" stroke-width="0.9"/>
<circle cx="730" cy="1031.06" r="2.35" fill="#fff" stroke="#111" stroke-width="0.9"/>
<polygon points="487,1019.13 483.8,1024.33 490.2,1024.33" fill="#fff" stroke="#111" stroke-width="0.9" stroke-linejoin="miter"/>
<polygon points="526.8,1032.6 523.6,1037.8 530,1037.8" fill="#fff" stroke="#111" stroke-width="0.9" stroke-linejoin="miter"/>
<polygon points="594.83,1038.84 591.63,1044.04 598.03,1044.04" fill="#fff" stroke="#111" stroke-width="0.9" stroke-linejoin="miter"/>
<polygon points="644.97,1044.08 641.77,1049.28 648.17,1049.28" fill="#fff" stroke="#111" stroke-width="0.9" stroke-linejoin="miter"/>
<polygon points="713,1042.08 709.8,1047.28 716.2,1047.28" fill="#fff" stroke="#111" stroke-width="0.9" stroke-linejoin="miter"/>
<polygon points="731,1092.74 727.8,1097.94 734.2,1097.94" fill="#fff" stroke="#111" stroke-width="0.9" stroke-linejoin="miter"/>
<text transform="translate(486.45,1089.7) scale(1.04,1)" font-size="23.3" text-anchor="start">As</text>
</g>
<g><!-- Mo -->
<path d="M842.5 953.7V979.66M882.3 991.38V1006.36M950.33 1000.62V1016.59M1000.47 1017.09V1024.07M1068.5 1029.06V1035.05M842.5 1031.31V1044.29M882.3 1043.79V1056.76M950.33 1066.99V1077.97M1000.47 1066.25V1079.22M1068.5 1075.48V1086.46M842.5 1021.33V1028.32M882.3 1036.05V1043.04M950.33 1045.53V1061.5M1000.47 1063V1069.99M1068.5 1068.24V1077.23M842.5 989.89V1005.86M882.3 1015.34V1029.31M950.33 1040.04V1048.03M1000.47 1053.77V1061.75M1068.5 1053.77V1071.74" fill="none" stroke="#666" stroke-width="1.0"/>
<path d="M839.5 953.7h6M839.5 979.66h6M879.3 991.38h6M879.3 1006.36h6M947.33 1000.62h6M947.33 1016.59h6M997.47 1017.09h6M997.47 1024.07h6M1065.5 1029.06h6M1065.5 1035.05h6M839.5 1031.31h6M839.5 1044.29h6M879.3 1043.79h6M879.3 1056.76h6M947.33 1066.99h6M947.33 1077.97h6M997.47 1066.25h6M997.47 1079.22h6M1065.5 1075.48h6M1065.5 1086.46h6M839.5 1021.33h6M839.5 1028.32h6M879.3 1036.05h6M879.3 1043.04h6M947.33 1045.53h6M947.33 1061.5h6M997.47 1063h6M997.47 1069.99h6M1065.5 1068.24h6M1065.5 1077.23h6M839.5 989.89h6M839.5 1005.86h6M879.3 1015.34h6M879.3 1029.31h6M947.33 1040.04h6M947.33 1048.03h6M997.47 1053.77h6M997.47 1061.75h6M1065.5 1053.77h6M1065.5 1071.74h6" fill="none" stroke="#666" stroke-width="1"/>
<path d="M842.5 966.68L882.3 998.87L950.33 1008.6L1000.47 1020.58L1068.5 1032.06" fill="none" stroke="#262626" stroke-width="0.85"/>
<path d="M842.5 1037.8L882.3 1050.28L950.33 1072.48L1000.47 1072.73L1068.5 1080.97" fill="none" stroke="#262626" stroke-width="0.85"/>
<path d="M842.5 1024.82L882.3 1039.54L950.33 1053.52L1000.47 1066.5L1068.5 1072.73" fill="none" stroke="#262626" stroke-width="1.0" stroke-dasharray="2.6 2.3"/>
<path d="M842.5 997.87L882.3 1022.33L950.33 1044.04L1000.47 1057.76L1068.5 1062.75" fill="none" stroke="#262626" stroke-width="1.0" stroke-dasharray="2.6 2.3"/>
<rect x="820.5" y="935.3" width="265.8" height="185.8" fill="none" stroke="#111" stroke-width="1.5"/>
<text transform="translate(806.7,1125.2) scale(1.08,1)" font-size="21.4" text-anchor="end" letter-spacing="-0.5">0·0</text>
<text transform="translate(806.7,1095.75) scale(1.08,1)" font-size="21.4" text-anchor="end" letter-spacing="-0.5">0·2</text>
<text transform="translate(806.7,1063.31) scale(1.08,1)" font-size="21.4" text-anchor="end" letter-spacing="-0.5">0·4</text>
<text transform="translate(806.7,1031.37) scale(1.08,1)" font-size="21.4" text-anchor="end" letter-spacing="-0.5">0·6</text>
<text transform="translate(806.7,999.18) scale(1.08,1)" font-size="21.4" text-anchor="end" letter-spacing="-0.5">0·8</text>
<text transform="translate(806.7,966.49) scale(1.08,1)" font-size="21.4" text-anchor="end" letter-spacing="-0.5">1·0</text>
<path d="M832.16 1121.1v-10M842.5 1121.1v-17M910.53 1121.1v-10M950.33 1121.1v-10M978.57 1121.1v-10M1000.47 1121.1v-10M1018.36 1121.1v-10M1033.49 1121.1v-10M1046.6 1121.1v-10M1058.16 1121.1v-10M1068.5 1121.1v-17M820.5 1088.95h9M820.5 1056.51h9M820.5 1024.57h9M820.5 992.38h9M820.5 959.69h9" fill="none" stroke="#111" stroke-width="1.4"/>
<circle cx="841.5" cy="965.68" r="2.75" fill="#000"/>
<circle cx="881.3" cy="997.87" r="2.75" fill="#000"/>
<circle cx="949.33" cy="1007.6" r="2.75" fill="#000"/>
<circle cx="999.47" cy="1019.58" r="2.75" fill="#000"/>
<circle cx="1067.5" cy="1031.06" r="2.75" fill="#000"/>
<circle cx="1085.5" cy="1060.5" r="2.75" fill="#000"/>
<polygon points="842.5,1033.9 838.7,1039.7 846.3,1039.7" fill="#000"/>
<polygon points="882.3,1046.38 878.5,1052.18 886.1,1052.18" fill="#000"/>
<polygon points="950.33,1068.58 946.53,1074.38 954.13,1074.38" fill="#000"/>
<polygon points="1000.47,1068.83 996.67,1074.63 1004.27,1074.63" fill="#000"/>
<polygon points="1068.5,1077.07 1064.7,1082.87 1072.3,1082.87" fill="#000"/>
<polygon points="1086.5,1101.27 1082.7,1107.07 1090.3,1107.07" fill="#000"/>
<circle cx="841.5" cy="1023.82" r="2.35" fill="#fff" stroke="#111" stroke-width="0.9"/>
<circle cx="881.3" cy="1038.54" r="2.35" fill="#fff" stroke="#111" stroke-width="0.9"/>
<circle cx="949.33" cy="1052.52" r="2.35" fill="#fff" stroke="#111" stroke-width="0.9"/>
<circle cx="999.47" cy="1065.5" r="2.35" fill="#fff" stroke="#111" stroke-width="0.9"/>
<circle cx="1067.5" cy="1071.73" r="2.35" fill="#fff" stroke="#111" stroke-width="0.9"/>
<circle cx="1085.5" cy="1077.97" r="2.35" fill="#fff" stroke="#111" stroke-width="0.9"/>
<polygon points="842.5,994.17 839.3,999.37 845.7,999.37" fill="#fff" stroke="#111" stroke-width="0.9" stroke-linejoin="miter"/>
<polygon points="882.3,1018.63 879.1,1023.83 885.5,1023.83" fill="#fff" stroke="#111" stroke-width="0.9" stroke-linejoin="miter"/>
<polygon points="950.33,1040.34 947.13,1045.54 953.53,1045.54" fill="#fff" stroke="#111" stroke-width="0.9" stroke-linejoin="miter"/>
<polygon points="1000.47,1054.06 997.27,1059.26 1003.67,1059.26" fill="#fff" stroke="#111" stroke-width="0.9" stroke-linejoin="miter"/>
<polygon points="1068.5,1059.05 1065.3,1064.25 1071.7,1064.25" fill="#fff" stroke="#111" stroke-width="0.9" stroke-linejoin="miter"/>
<polygon points="1086.5,1108.21 1083.3,1113.41 1089.7,1113.41" fill="#fff" stroke="#111" stroke-width="0.9" stroke-linejoin="miter"/>
<text transform="translate(843.45,1095.94) scale(1.04,1)" font-size="23.3" text-anchor="start">Mo</text>
</g>
<g><!-- Pb -->
<path d="M125 1240.52V1252.5M164.8 1249.75V1258.73M232.83 1254.74V1263.72M282.97 1250.25V1260.23M351 1250.75V1260.73M125 1228.54V1240.52M164.8 1228.54V1247.5M232.83 1224.8V1246.76M282.97 1226.79V1244.76M351 1244.01V1252M125 1141.45V1165.41M164.8 1168.15V1188.11M232.83 1203.09V1212.07M282.97 1192.86V1206.83M351 1179.13V1204.08M125 1203.59V1218.56M164.8 1207.58V1221.55M232.83 1207.58V1221.55M282.97 1221.8V1229.79M351 1211.57V1225.54" fill="none" stroke="#999" stroke-width="1.5"/>
<path d="M122 1240.52h6M122 1252.5h6M161.8 1249.75h6M161.8 1258.73h6M229.83 1254.74h6M229.83 1263.72h6M279.97 1250.25h6M279.97 1260.23h6M348 1250.75h6M348 1260.73h6M122 1228.54h6M122 1240.52h6M161.8 1228.54h6M161.8 1247.5h6M229.83 1224.8h6M229.83 1246.76h6M279.97 1226.79h6M279.97 1244.76h6M348 1244.01h6M348 1252h6M122 1141.45h6M122 1165.41h6M161.8 1168.15h6M161.8 1188.11h6M229.83 1203.09h6M229.83 1212.07h6M279.97 1192.86h6M279.97 1206.83h6M348 1179.13h6M348 1204.08h6M122 1203.59h6M122 1218.56h6M161.8 1207.58h6M161.8 1221.55h6M229.83 1207.58h6M229.83 1221.55h6M279.97 1221.8h6M279.97 1229.79h6M348 1211.57h6M348 1225.54h6" fill="none" stroke="#777" stroke-width="1"/>
<path d="M125 1246.51L164.8 1254.24L232.83 1259.23L282.97 1255.24L351 1255.74" fill="none" stroke="#262626" stroke-width="0.85"/>
<path d="M125 1234.53L164.8 1238.02L232.83 1235.78L282.97 1235.78L351 1248" fill="none" stroke="#262626" stroke-width="0.85"/>
<path d="M125 1153.43L164.8 1178.13L232.83 1207.58L282.97 1199.84L351 1191.61" fill="none" stroke="#262626" stroke-width="1.0" stroke-dasharray="2.6 2.3"/>
<path d="M125 1211.07L164.8 1214.57L232.83 1214.57L282.97 1225.79L351 1218.56" fill="none" stroke="#262626" stroke-width="1.0" stroke-dasharray="2.6 2.3"/>
<rect x="103.5" y="1121.45" width="265.8" height="184.5" fill="none" stroke="#111" stroke-width="1.5"/>
<text transform="translate(87.5,1312.95) scale(1.08,1)" font-size="21.4" text-anchor="end">0</text>
<text transform="translate(87.5,1270.27) scale(1.08,1)" font-size="21.4" text-anchor="end">2</text>
<text transform="translate(87.5,1226.35) scale(1.08,1)" font-size="21.4" text-anchor="end">4</text>
<text transform="translate(87.5,1182.93) scale(1.08,1)" font-size="21.4" text-anchor="end">6</text>
<text transform="translate(87.5,1143.3) scale(1.08,1)" font-size="21.4" text-anchor="end">8</text>
<path d="M115.16 1305.95v-10M125.5 1305.95v-17M193.53 1305.95v-10M233.33 1305.95v-10M261.57 1305.95v-10M283.47 1305.95v-10M301.36 1305.95v-10M316.49 1305.95v-10M329.6 1305.95v-10M341.16 1305.95v-10M351.5 1305.95v-17M103.5 1263.47h9M103.5 1219.55h9M103.5 1176.13h9M103.5 1132.46h9" fill="none" stroke="#111" stroke-width="1.4"/>
<circle cx="124" cy="1245.51" r="2.75" fill="#000"/>
<circle cx="163.8" cy="1253.24" r="2.75" fill="#000"/>
<circle cx="231.83" cy="1258.23" r="2.75" fill="#000"/>
<circle cx="281.97" cy="1254.24" r="2.75" fill="#000"/>
<circle cx="350" cy="1254.74" r="2.75" fill="#000"/>
<circle cx="368" cy="1246.75" r="2.75" fill="#000"/>
<polygon points="125,1230.63 121.2,1236.43 128.8,1236.43" fill="#000"/>
<polygon points="164.8,1234.12 161,1239.92 168.6,1239.92" fill="#000"/>
<polygon points="232.83,1231.88 229.03,1237.68 236.63,1237.68" fill="#000"/>
<polygon points="282.97,1231.88 279.17,1237.68 286.77,1237.68" fill="#000"/>
<polygon points="351,1244.1 347.2,1249.9 354.8,1249.9" fill="#000"/>
<polygon points="369,1265.81 365.2,1271.61 372.8,1271.61" fill="#000"/>
<circle cx="124" cy="1152.43" r="2.35" fill="#fff" stroke="#111" stroke-width="0.9"/>
<circle cx="163.8" cy="1177.13" r="2.35" fill="#fff" stroke="#111" stroke-width="0.9"/>
<circle cx="231.83" cy="1206.58" r="2.35" fill="#fff" stroke="#111" stroke-width="0.9"/>
<circle cx="281.97" cy="1198.84" r="2.35" fill="#fff" stroke="#111" stroke-width="0.9"/>
<circle cx="350" cy="1190.61" r="2.35" fill="#fff" stroke="#111" stroke-width="0.9"/>
<circle cx="368" cy="1207.33" r="2.35" fill="#fff" stroke="#111" stroke-width="0.9"/>
<polygon points="125,1207.37 121.8,1212.57 128.2,1212.57" fill="#fff" stroke="#111" stroke-width="0.9" stroke-linejoin="miter"/>
<polygon points="164.8,1210.87 161.6,1216.07 168,1216.07" fill="#fff" stroke="#111" stroke-width="0.9" stroke-linejoin="miter"/>
<polygon points="232.83,1210.87 229.63,1216.07 236.03,1216.07" fill="#fff" stroke="#111" stroke-width="0.9" stroke-linejoin="miter"/>
<polygon points="282.97,1222.09 279.77,1227.29 286.17,1227.29" fill="#fff" stroke="#111" stroke-width="0.9" stroke-linejoin="miter"/>
<polygon points="351,1214.86 347.8,1220.06 354.2,1220.06" fill="#fff" stroke="#111" stroke-width="0.9" stroke-linejoin="miter"/>
<polygon points="369,1274.5 365.8,1279.7 372.2,1279.7" fill="#fff" stroke="#111" stroke-width="0.9" stroke-linejoin="miter"/>
<text transform="translate(125.95,1280.19) scale(1.04,1)" font-size="23.3" text-anchor="start">Pb</text>
</g>
<g><!-- Cd -->
<path d="M487 1253.74V1260.73M526.8 1238.02V1246.01M594.83 1223.55V1238.52M644.97 1222.3V1240.27M713 1217.81V1228.79M487 1172.64V1204.58M526.8 1176.14V1224.05M594.83 1158.17V1206.08M644.97 1136.46V1201.34M713 1210.07V1225.05M487 1213.32V1228.29M526.8 1200.09V1225.05M594.83 1203.34V1212.32M644.97 1201.84V1211.82M713 1205.83V1215.81M487 1232.28V1249.25M526.8 1231.28V1240.27M594.83 1204.58V1229.54M644.97 1203.09V1221.05M713 1206.33V1221.3" fill="none" stroke="#999" stroke-width="1.5"/>
<path d="M484 1253.74h6M484 1260.73h6M523.8 1238.02h6M523.8 1246.01h6M591.83 1223.55h6M591.83 1238.52h6M641.97 1222.3h6M641.97 1240.27h6M710 1217.81h6M710 1228.79h6M484 1172.64h6M484 1204.58h6M523.8 1176.14h6M523.8 1224.05h6M591.83 1158.17h6M591.83 1206.08h6M641.97 1136.46h6M641.97 1201.34h6M710 1210.07h6M710 1225.05h6M484 1213.32h6M484 1228.29h6M523.8 1200.09h6M523.8 1225.05h6M591.83 1203.34h6M591.83 1212.32h6M641.97 1201.84h6M641.97 1211.82h6M710 1205.83h6M710 1215.81h6M484 1232.28h6M484 1249.25h6M523.8 1231.28h6M523.8 1240.27h6M591.83 1204.58h6M591.83 1229.54h6M641.97 1203.09h6M641.97 1221.05h6M710 1206.33h6M710 1221.3h6" fill="none" stroke="#777" stroke-width="1"/>
<path d="M487 1257.24L526.8 1242.01L594.83 1231.03L644.97 1231.28L713 1223.3" fill="none" stroke="#262626" stroke-width="0.85"/>
<path d="M487 1188.61L526.8 1200.09L594.83 1182.12L644.97 1168.9L713 1217.56" fill="none" stroke="#262626" stroke-width="0.85"/>
<path d="M487 1220.8L526.8 1212.57L594.83 1207.83L644.97 1206.83L713 1210.82" fill="none" stroke="#262626" stroke-width="1.0" stroke-dasharray="2.6 2.3"/>
<path d="M487 1240.77L526.8 1235.78L594.83 1217.06L644.97 1212.07L713 1213.82" fill="none" stroke="#262626" stroke-width="1.0" stroke-dasharray="2.6 2.3"/>
<rect x="464.6" y="1121.5" width="265.8" height="184.4" fill="none" stroke="#111" stroke-width="1.5"/>
<text transform="translate(448.8,1312.9) scale(1.08,1)" font-size="21.4" text-anchor="end" letter-spacing="-0.5">0·0</text>
<text transform="translate(448.8,1265.28) scale(1.08,1)" font-size="21.4" text-anchor="end" letter-spacing="-0.5">0·1</text>
<text transform="translate(448.8,1215.87) scale(1.08,1)" font-size="21.4" text-anchor="end" letter-spacing="-0.5">0·2</text>
<text transform="translate(448.8,1166.21) scale(1.08,1)" font-size="21.4" text-anchor="end" letter-spacing="-0.5">0·3</text>
<path d="M475.86 1305.9v-10M486.2 1305.9v-17M554.23 1305.9v-10M594.03 1305.9v-10M622.27 1305.9v-10M644.17 1305.9v-10M662.06 1305.9v-10M677.19 1305.9v-10M690.3 1305.9v-10M701.86 1305.9v-10M712.2 1305.9v-17M464.6 1258.48h9M464.6 1209.07h9M464.6 1159.41h9" fill="none" stroke="#111" stroke-width="1.4"/>
<circle cx="486" cy="1256.24" r="2.75" fill="#000"/>
<circle cx="525.8" cy="1241.01" r="2.75" fill="#000"/>
<circle cx="593.83" cy="1230.03" r="2.75" fill="#000"/>
<circle cx="643.97" cy="1230.28" r="2.75" fill="#000"/>
<circle cx="712" cy="1222.3" r="2.75" fill="#000"/>
<circle cx="730" cy="1202.34" r="2.75" fill="#000"/>
<polygon points="487,1184.71 483.2,1190.51 490.8,1190.51" fill="#000"/>
<polygon points="526.8,1196.19 523,1201.99 530.6,1201.99" fill="#000"/>
<polygon points="594.83,1178.22 591.03,1184.02 598.63,1184.02" fill="#000"/>
<polygon points="644.97,1165 641.17,1170.8 648.77,1170.8" fill="#000"/>
<polygon points="713,1213.66 709.2,1219.46 716.8,1219.46" fill="#000"/>
<polygon points="731,1214.41 727.2,1220.21 734.8,1220.21" fill="#000"/>
<circle cx="486" cy="1219.8" r="2.35" fill="#fff" stroke="#111" stroke-width="0.9"/>
<circle cx="525.8" cy="1211.57" r="2.35" fill="#fff" stroke="#111" stroke-width="0.9"/>
<circle cx="593.83" cy="1206.83" r="2.35" fill="#fff" stroke="#111" stroke-width="0.9"/>
<circle cx="643.97" cy="1205.83" r="2.35" fill="#fff" stroke="#111" stroke-width="0.9"/>
<circle cx="712" cy="1209.82" r="2.35" fill="#fff" stroke="#111" stroke-width="0.9"/>
<circle cx="730" cy="1207.33" r="2.35" fill="#fff" stroke="#111" stroke-width="0.9"/>
<polygon points="487,1237.07 483.8,1242.27 490.2,1242.27" fill="#fff" stroke="#111" stroke-width="0.9" stroke-linejoin="miter"/>
<polygon points="526.8,1232.08 523.6,1237.28 530,1237.28" fill="#fff" stroke="#111" stroke-width="0.9" stroke-linejoin="miter"/>
<polygon points="594.83,1213.36 591.63,1218.56 598.03,1218.56" fill="#fff" stroke="#111" stroke-width="0.9" stroke-linejoin="miter"/>
<polygon points="644.97,1208.37 641.77,1213.57 648.17,1213.57" fill="#fff" stroke="#111" stroke-width="0.9" stroke-linejoin="miter"/>
<polygon points="713,1210.12 709.8,1215.32 716.2,1215.32" fill="#fff" stroke="#111" stroke-width="0.9" stroke-linejoin="miter"/>
<polygon points="731,1180.92 727.8,1186.12 734.2,1186.12" fill="#fff" stroke="#111" stroke-width="0.9" stroke-linejoin="miter"/>
<text transform="translate(486.45,1281.94) scale(1.04,1)" font-size="23.3" text-anchor="start">Cd</text>
</g>
<g><!-- Sb -->
<path d="M842.5 1134.71V1154.68M882.3 1197.6V1208.58M950.33 1220.55V1229.54M1000.47 1244.01V1249M1068.5 1257.74V1263.72M842.5 1138.46V1188.36M882.3 1176.39V1206.33M950.33 1183.37V1218.31M1000.47 1163.41V1218.31M1068.5 1201.84V1238.77M842.5 1288.18V1293.17M882.3 1261.23V1276.2M950.33 1249V1259.98M1000.47 1246.01V1258.98M1068.5 1263.23V1276.2M842.5 1136.46V1171.39M882.3 1154.43V1179.38M950.33 1164.41V1188.36M1000.47 1174.89V1206.83M1068.5 1148.44V1213.32" fill="none" stroke="#999" stroke-width="1.5"/>
<path d="M839.5 1134.71h6M839.5 1154.68h6M879.3 1197.6h6M879.3 1208.58h6M947.33 1220.55h6M947.33 1229.54h6M997.47 1244.01h6M997.47 1249h6M1065.5 1257.74h6M1065.5 1263.72h6M839.5 1138.46h6M839.5 1188.36h6M879.3 1176.39h6M879.3 1206.33h6M947.33 1183.37h6M947.33 1218.31h6M997.47 1163.41h6M997.47 1218.31h6M1065.5 1201.84h6M1065.5 1238.77h6M839.5 1288.18h6M839.5 1293.17h6M879.3 1261.23h6M879.3 1276.2h6M947.33 1249h6M947.33 1259.98h6M997.47 1246.01h6M997.47 1258.98h6M1065.5 1263.23h6M1065.5 1276.2h6M839.5 1136.46h6M839.5 1171.39h6M879.3 1154.43h6M879.3 1179.38h6M947.33 1164.41h6M947.33 1188.36h6M997.47 1174.89h6M997.47 1206.83h6M1065.5 1148.44h6M1065.5 1213.32h6" fill="none" stroke="#777" stroke-width="1"/>
<path d="M842.5 1144.69L882.3 1203.09L950.33 1225.05L1000.47 1246.51L1068.5 1260.73" fill="none" stroke="#262626" stroke-width="0.85"/>
<path d="M842.5 1163.41L882.3 1191.36L950.33 1200.84L1000.47 1190.86L1068.5 1220.3" fill="none" stroke="#262626" stroke-width="0.85"/>
<path d="M842.5 1290.68L882.3 1268.72L950.33 1254.49L1000.47 1252.5L1068.5 1269.71" fill="none" stroke="#262626" stroke-width="1.0" stroke-dasharray="2.6 2.3"/>
<path d="M842.5 1153.93L882.3 1166.9L950.33 1176.39L1000.47 1190.86L1068.5 1180.88" fill="none" stroke="#262626" stroke-width="1.0" stroke-dasharray="2.6 2.3"/>
<rect x="820.5" y="1121.1" width="265.8" height="184.8" fill="none" stroke="#111" stroke-width="1.5"/>
<text transform="translate(806.7,1312.9) scale(1.08,1)" font-size="21.4" text-anchor="end" letter-spacing="-0.5">0·0</text>
<text transform="translate(806.7,1284.5) scale(1.08,1)" font-size="21.4" text-anchor="end" letter-spacing="-0.5">0·2</text>
<text transform="translate(806.7,1256.05) scale(1.08,1)" font-size="21.4" text-anchor="end" letter-spacing="-0.5">0·4</text>
<text transform="translate(806.7,1227.85) scale(1.08,1)" font-size="21.4" text-anchor="end" letter-spacing="-0.5">0·6</text>
<text transform="translate(806.7,1199.4) scale(1.08,1)" font-size="21.4" text-anchor="end" letter-spacing="-0.5">0·8</text>
<text transform="translate(806.7,1171.21) scale(1.08,1)" font-size="21.4" text-anchor="end" letter-spacing="-0.5">1·0</text>
<text transform="translate(806.7,1142.26) scale(1.08,1)" font-size="21.4" text-anchor="end" letter-spacing="-0.5">1·2</text>
<path d="M832.16 1305.9v-10M842.5 1305.9v-17M910.53 1305.9v-10M950.33 1305.9v-10M978.57 1305.9v-10M1000.47 1305.9v-10M1018.36 1305.9v-10M1033.49 1305.9v-10M1046.6 1305.9v-10M1058.16 1305.9v-10M1068.5 1305.9v-17M820.5 1277.7h9M820.5 1249.25h9M820.5 1221.05h9M820.5 1192.6h9M820.5 1164.41h9M820.5 1135.46h9" fill="none" stroke="#111" stroke-width="1.4"/>
<circle cx="841.5" cy="1143.69" r="2.75" fill="#000"/>
<circle cx="881.3" cy="1202.09" r="2.75" fill="#000"/>
<circle cx="949.33" cy="1224.05" r="2.75" fill="#000"/>
<circle cx="999.47" cy="1245.51" r="2.75" fill="#000"/>
<circle cx="1067.5" cy="1259.73" r="2.75" fill="#000"/>
<circle cx="1085.5" cy="1285.68" r="2.75" fill="#000"/>
<polygon points="842.5,1159.51 838.7,1165.31 846.3,1165.31" fill="#000"/>
<polygon points="882.3,1187.46 878.5,1193.26 886.1,1193.26" fill="#000"/>
<polygon points="950.33,1196.94 946.53,1202.74 954.13,1202.74" fill="#000"/>
<polygon points="1000.47,1186.96 996.67,1192.76 1004.27,1192.76" fill="#000"/>
<polygon points="1068.5,1216.4 1064.7,1222.2 1072.3,1222.2" fill="#000"/>
<polygon points="1086.5,1287.77 1082.7,1293.57 1090.3,1293.57" fill="#000"/>
<circle cx="841.5" cy="1289.68" r="2.35" fill="#fff" stroke="#111" stroke-width="0.9"/>
<circle cx="881.3" cy="1267.72" r="2.35" fill="#fff" stroke="#111" stroke-width="0.9"/>
<circle cx="949.33" cy="1253.49" r="2.35" fill="#fff" stroke="#111" stroke-width="0.9"/>
<circle cx="999.47" cy="1251.5" r="2.35" fill="#fff" stroke="#111" stroke-width="0.9"/>
<circle cx="1067.5" cy="1268.71" r="2.35" fill="#fff" stroke="#111" stroke-width="0.9"/>
<circle cx="1085.5" cy="1286.93" r="2.35" fill="#fff" stroke="#111" stroke-width="0.9"/>
<polygon points="842.5,1150.23 839.3,1155.43 845.7,1155.43" fill="#fff" stroke="#111" stroke-width="0.9" stroke-linejoin="miter"/>
<polygon points="882.3,1163.2 879.1,1168.4 885.5,1168.4" fill="#fff" stroke="#111" stroke-width="0.9" stroke-linejoin="miter"/>
<polygon points="950.33,1172.69 947.13,1177.89 953.53,1177.89" fill="#fff" stroke="#111" stroke-width="0.9" stroke-linejoin="miter"/>
<polygon points="1000.47,1187.16 997.27,1192.36 1003.67,1192.36" fill="#fff" stroke="#111" stroke-width="0.9" stroke-linejoin="miter"/>
<polygon points="1068.5,1177.18 1065.3,1182.38 1071.7,1182.38" fill="#fff" stroke="#111" stroke-width="0.9" stroke-linejoin="miter"/>
<polygon points="1086.5,1294.96 1083.3,1300.16 1089.7,1300.16" fill="#fff" stroke="#111" stroke-width="0.9" stroke-linejoin="miter"/>
<text transform="translate(842.45,1275.7) scale(1.04,1)" font-size="23.3" text-anchor="start">Sb</text>
</g>
<text transform="translate(125.5,1338.7) scale(1.08,1)" font-size="21.4" text-anchor="middle">10</text>
<text transform="translate(351.5,1338.7) scale(1.08,1)" font-size="21.4" text-anchor="middle">100</text>
<text transform="translate(486.2,1338.7) scale(1.08,1)" font-size="21.4" text-anchor="middle">10</text>
<text transform="translate(712.2,1338.7) scale(1.08,1)" font-size="21.4" text-anchor="middle">100</text>
<text transform="translate(842.5,1338.7) scale(1.08,1)" font-size="21.4" text-anchor="middle">10</text>
<text transform="translate(1068.5,1338.7) scale(1.08,1)" font-size="21.4" text-anchor="middle">100</text>
<text transform="translate(17.4,812) rotate(-90)" font-size="20.7" textLength="286.5" lengthAdjust="spacingAndGlyphs">Elemental concentration, µg g<tspan dy="-8" font-size="13.5">-1</tspan></text>
<text x="417.4" y="1365.9" font-size="20.7" textLength="344" lengthAdjust="spacingAndGlyphs">Distance from the road (log scale), m</text>
</svg>
</body></html>
